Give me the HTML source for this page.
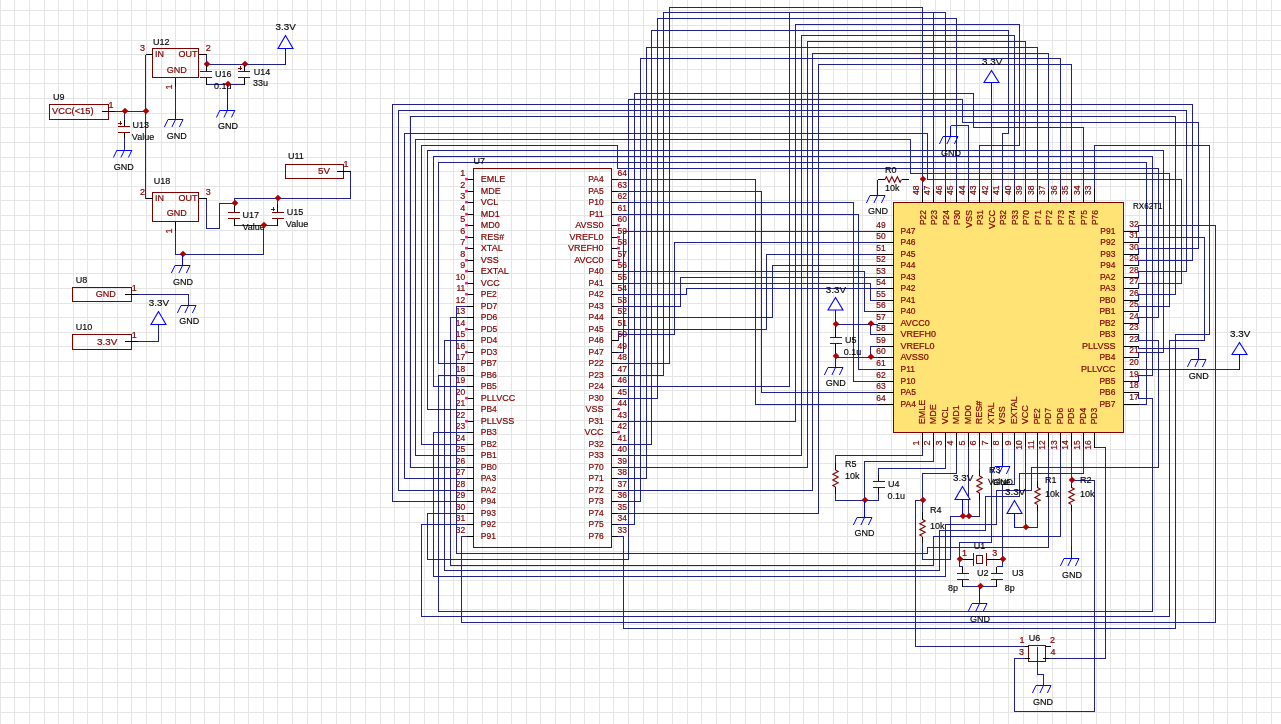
<!DOCTYPE html>
<html lang="en"><head><meta charset="utf-8"><title>RX62T1 schematic</title>
<style>html,body{margin:0;padding:0;background:#fff;overflow:hidden}svg{display:block;will-change:transform;transform:translateZ(0)}text{font-family:"Liberation Sans",Arial,sans-serif;font-size:9px;white-space:pre;stroke-width:.14px;fill:#000;stroke:#000}text.r{fill:#800000;stroke:#800000;stroke-width:.2px}</style></head><body>
<svg width="1281" height="724" viewBox="0 0 1281 724">
<g shape-rendering="crispEdges" stroke="#e5e5e5" stroke-width="1">
<line x1="0.5" y1="0" x2="0.5" y2="724"/>
<line x1="14.5" y1="0" x2="14.5" y2="724"/>
<line x1="29.5" y1="0" x2="29.5" y2="724"/>
<line x1="44.5" y1="0" x2="44.5" y2="724"/>
<line x1="58.5" y1="0" x2="58.5" y2="724"/>
<line x1="73.5" y1="0" x2="73.5" y2="724"/>
<line x1="87.5" y1="0" x2="87.5" y2="724"/>
<line x1="102.5" y1="0" x2="102.5" y2="724"/>
<line x1="117.5" y1="0" x2="117.5" y2="724"/>
<line x1="131.5" y1="0" x2="131.5" y2="724"/>
<line x1="146.5" y1="0" x2="146.5" y2="724"/>
<line x1="161.5" y1="0" x2="161.5" y2="724"/>
<line x1="175.5" y1="0" x2="175.5" y2="724"/>
<line x1="190.5" y1="0" x2="190.5" y2="724"/>
<line x1="204.5" y1="0" x2="204.5" y2="724"/>
<line x1="219.5" y1="0" x2="219.5" y2="724"/>
<line x1="234.5" y1="0" x2="234.5" y2="724"/>
<line x1="248.5" y1="0" x2="248.5" y2="724"/>
<line x1="263.5" y1="0" x2="263.5" y2="724"/>
<line x1="277.5" y1="0" x2="277.5" y2="724"/>
<line x1="292.5" y1="0" x2="292.5" y2="724"/>
<line x1="307.5" y1="0" x2="307.5" y2="724"/>
<line x1="321.5" y1="0" x2="321.5" y2="724"/>
<line x1="336.5" y1="0" x2="336.5" y2="724"/>
<line x1="350.5" y1="0" x2="350.5" y2="724"/>
<line x1="365.5" y1="0" x2="365.5" y2="724"/>
<line x1="380.5" y1="0" x2="380.5" y2="724"/>
<line x1="394.5" y1="0" x2="394.5" y2="724"/>
<line x1="409.5" y1="0" x2="409.5" y2="724"/>
<line x1="424.5" y1="0" x2="424.5" y2="724"/>
<line x1="438.5" y1="0" x2="438.5" y2="724"/>
<line x1="453.5" y1="0" x2="453.5" y2="724"/>
<line x1="467.5" y1="0" x2="467.5" y2="724"/>
<line x1="482.5" y1="0" x2="482.5" y2="724"/>
<line x1="497.5" y1="0" x2="497.5" y2="724"/>
<line x1="511.5" y1="0" x2="511.5" y2="724"/>
<line x1="526.5" y1="0" x2="526.5" y2="724"/>
<line x1="540.5" y1="0" x2="540.5" y2="724"/>
<line x1="555.5" y1="0" x2="555.5" y2="724"/>
<line x1="570.5" y1="0" x2="570.5" y2="724"/>
<line x1="584.5" y1="0" x2="584.5" y2="724"/>
<line x1="599.5" y1="0" x2="599.5" y2="724"/>
<line x1="613.5" y1="0" x2="613.5" y2="724"/>
<line x1="628.5" y1="0" x2="628.5" y2="724"/>
<line x1="643.5" y1="0" x2="643.5" y2="724"/>
<line x1="657.5" y1="0" x2="657.5" y2="724"/>
<line x1="672.5" y1="0" x2="672.5" y2="724"/>
<line x1="687.5" y1="0" x2="687.5" y2="724"/>
<line x1="701.5" y1="0" x2="701.5" y2="724"/>
<line x1="716.5" y1="0" x2="716.5" y2="724"/>
<line x1="730.5" y1="0" x2="730.5" y2="724"/>
<line x1="745.5" y1="0" x2="745.5" y2="724"/>
<line x1="760.5" y1="0" x2="760.5" y2="724"/>
<line x1="774.5" y1="0" x2="774.5" y2="724"/>
<line x1="789.5" y1="0" x2="789.5" y2="724"/>
<line x1="803.5" y1="0" x2="803.5" y2="724"/>
<line x1="818.5" y1="0" x2="818.5" y2="724"/>
<line x1="833.5" y1="0" x2="833.5" y2="724"/>
<line x1="847.5" y1="0" x2="847.5" y2="724"/>
<line x1="862.5" y1="0" x2="862.5" y2="724"/>
<line x1="876.5" y1="0" x2="876.5" y2="724"/>
<line x1="891.5" y1="0" x2="891.5" y2="724"/>
<line x1="906.5" y1="0" x2="906.5" y2="724"/>
<line x1="920.5" y1="0" x2="920.5" y2="724"/>
<line x1="935.5" y1="0" x2="935.5" y2="724"/>
<line x1="950.5" y1="0" x2="950.5" y2="724"/>
<line x1="964.5" y1="0" x2="964.5" y2="724"/>
<line x1="979.5" y1="0" x2="979.5" y2="724"/>
<line x1="993.5" y1="0" x2="993.5" y2="724"/>
<line x1="1008.5" y1="0" x2="1008.5" y2="724"/>
<line x1="1023.5" y1="0" x2="1023.5" y2="724"/>
<line x1="1037.5" y1="0" x2="1037.5" y2="724"/>
<line x1="1052.5" y1="0" x2="1052.5" y2="724"/>
<line x1="1066.5" y1="0" x2="1066.5" y2="724"/>
<line x1="1081.5" y1="0" x2="1081.5" y2="724"/>
<line x1="1096.5" y1="0" x2="1096.5" y2="724"/>
<line x1="1110.5" y1="0" x2="1110.5" y2="724"/>
<line x1="1125.5" y1="0" x2="1125.5" y2="724"/>
<line x1="1139.5" y1="0" x2="1139.5" y2="724"/>
<line x1="1154.5" y1="0" x2="1154.5" y2="724"/>
<line x1="1169.5" y1="0" x2="1169.5" y2="724"/>
<line x1="1183.5" y1="0" x2="1183.5" y2="724"/>
<line x1="1198.5" y1="0" x2="1198.5" y2="724"/>
<line x1="1213.5" y1="0" x2="1213.5" y2="724"/>
<line x1="1227.5" y1="0" x2="1227.5" y2="724"/>
<line x1="1242.5" y1="0" x2="1242.5" y2="724"/>
<line x1="1256.5" y1="0" x2="1256.5" y2="724"/>
<line x1="1271.5" y1="0" x2="1271.5" y2="724"/>
<line x1="0" y1="10.5" x2="1281" y2="10.5"/>
<line x1="0" y1="25.5" x2="1281" y2="25.5"/>
<line x1="0" y1="40.5" x2="1281" y2="40.5"/>
<line x1="0" y1="54.5" x2="1281" y2="54.5"/>
<line x1="0" y1="69.5" x2="1281" y2="69.5"/>
<line x1="0" y1="83.5" x2="1281" y2="83.5"/>
<line x1="0" y1="98.5" x2="1281" y2="98.5"/>
<line x1="0" y1="113.5" x2="1281" y2="113.5"/>
<line x1="0" y1="127.5" x2="1281" y2="127.5"/>
<line x1="0" y1="142.5" x2="1281" y2="142.5"/>
<line x1="0" y1="157.5" x2="1281" y2="157.5"/>
<line x1="0" y1="171.5" x2="1281" y2="171.5"/>
<line x1="0" y1="186.5" x2="1281" y2="186.5"/>
<line x1="0" y1="200.5" x2="1281" y2="200.5"/>
<line x1="0" y1="215.5" x2="1281" y2="215.5"/>
<line x1="0" y1="230.5" x2="1281" y2="230.5"/>
<line x1="0" y1="244.5" x2="1281" y2="244.5"/>
<line x1="0" y1="259.5" x2="1281" y2="259.5"/>
<line x1="0" y1="273.5" x2="1281" y2="273.5"/>
<line x1="0" y1="288.5" x2="1281" y2="288.5"/>
<line x1="0" y1="303.5" x2="1281" y2="303.5"/>
<line x1="0" y1="317.5" x2="1281" y2="317.5"/>
<line x1="0" y1="332.5" x2="1281" y2="332.5"/>
<line x1="0" y1="346.5" x2="1281" y2="346.5"/>
<line x1="0" y1="361.5" x2="1281" y2="361.5"/>
<line x1="0" y1="376.5" x2="1281" y2="376.5"/>
<line x1="0" y1="390.5" x2="1281" y2="390.5"/>
<line x1="0" y1="405.5" x2="1281" y2="405.5"/>
<line x1="0" y1="420.5" x2="1281" y2="420.5"/>
<line x1="0" y1="434.5" x2="1281" y2="434.5"/>
<line x1="0" y1="449.5" x2="1281" y2="449.5"/>
<line x1="0" y1="463.5" x2="1281" y2="463.5"/>
<line x1="0" y1="478.5" x2="1281" y2="478.5"/>
<line x1="0" y1="493.5" x2="1281" y2="493.5"/>
<line x1="0" y1="507.5" x2="1281" y2="507.5"/>
<line x1="0" y1="522.5" x2="1281" y2="522.5"/>
<line x1="0" y1="536.5" x2="1281" y2="536.5"/>
<line x1="0" y1="551.5" x2="1281" y2="551.5"/>
<line x1="0" y1="566.5" x2="1281" y2="566.5"/>
<line x1="0" y1="580.5" x2="1281" y2="580.5"/>
<line x1="0" y1="595.5" x2="1281" y2="595.5"/>
<line x1="0" y1="609.5" x2="1281" y2="609.5"/>
<line x1="0" y1="624.5" x2="1281" y2="624.5"/>
<line x1="0" y1="639.5" x2="1281" y2="639.5"/>
<line x1="0" y1="653.5" x2="1281" y2="653.5"/>
<line x1="0" y1="668.5" x2="1281" y2="668.5"/>
<line x1="0" y1="682.5" x2="1281" y2="682.5"/>
<line x1="0" y1="697.5" x2="1281" y2="697.5"/>
<line x1="0" y1="712.5" x2="1281" y2="712.5"/>
</g>
<g id="wires">
<polyline points="467,306.5 456.5,306.5 456.5,553.5 927.5,553.5 927.5,547.5 1048.5,547.5 1048.5,447" stroke="#21218b" stroke-width="1" fill="none" shape-rendering="crispEdges"/>
<polyline points="467,317.5 450.5,317.5 450.5,565.5 933.5,565.5 933.5,536.5 1060.5,536.5 1060.5,447" stroke="#21218b" stroke-width="1" fill="none" shape-rendering="crispEdges"/>
<polyline points="467,340.5 444.5,340.5 444.5,570.5 939.5,570.5 939.5,530.5 985.5,530.5 985.5,496.5 1019.5,496.5 1019.5,473.5 1083.5,473.5 1083.5,447" stroke="#21218b" stroke-width="1" fill="none" shape-rendering="crispEdges"/>
<polyline points="467,363.5 438.5,363.5 438.5,162.5 1146.5,162.5 1146.5,404.5 1138.5,404.5" stroke="#21218b" stroke-width="1" fill="none" shape-rendering="crispEdges"/>
<polyline points="467,375.5 438.5,375.5 438.5,611.5 1152.5,611.5 1152.5,398.5 1138.5,398.5 1138.5,392.5" stroke="#21218b" stroke-width="1" fill="none" shape-rendering="crispEdges"/>
<polyline points="467,386.5 433.5,386.5 433.5,156.5 1152.5,156.5 1152.5,375.5 1138.5,375.5 1138.5,381.5" stroke="#21218b" stroke-width="1" fill="none" shape-rendering="crispEdges"/>
<polyline points="467,409.5 427.5,409.5 427.5,150.5 1163.5,150.5 1163.5,352.5 1138.5,352.5 1138.5,357.5" stroke="#21218b" stroke-width="1" fill="none" shape-rendering="crispEdges"/>
<polyline points="467,432.5 433.5,432.5 433.5,576.5 945.5,576.5 945.5,524.5 996.5,524.5 996.5,490.5 1031.5,490.5 1031.5,467.5 1158.5,467.5 1158.5,340.5 1138.5,340.5 1138.5,334.5" stroke="#21218b" stroke-width="1" fill="none" shape-rendering="crispEdges"/>
<polyline points="467,444.5 421.5,444.5 421.5,145.5 617.5,145.5 617.5,168.5 1158.5,168.5 1158.5,317.5 1138.5,317.5 1138.5,323.5" stroke="#21218b" stroke-width="1" fill="none" shape-rendering="crispEdges"/>
<polyline points="467,455.5 415.5,455.5 415.5,139.5 910.5,139.5 910.5,173.5 1169.5,173.5 1169.5,306.5 1138.5,306.5 1138.5,311.5" stroke="#21218b" stroke-width="1" fill="none" shape-rendering="crispEdges"/>
<polyline points="467,467.5 410.5,467.5 410.5,116.5 1175.5,116.5 1175.5,294.5 1138.5,294.5 1138.5,300.5" stroke="#21218b" stroke-width="1" fill="none" shape-rendering="crispEdges"/>
<polyline points="467,478.5 404.5,478.5 404.5,133.5 927.5,133.5 927.5,179.5 1181.5,179.5 1181.5,283.5 1138.5,283.5 1138.5,288.5" stroke="#21218b" stroke-width="1" fill="none" shape-rendering="crispEdges"/>
<polyline points="467,490.5 398.5,490.5 398.5,110.5 1186.5,110.5 1186.5,271.5 1138.5,271.5 1138.5,277.5" stroke="#21218b" stroke-width="1" fill="none" shape-rendering="crispEdges"/>
<polyline points="467,501.5 392.5,501.5 392.5,104.5 1192.5,104.5 1192.5,260.5 1138.5,260.5 1138.5,265.5" stroke="#21218b" stroke-width="1" fill="none" shape-rendering="crispEdges"/>
<polyline points="467,513.5 427.5,513.5 427.5,559.5 628.5,559.5 628.5,99.5 962.5,99.5 962.5,122.5 1198.5,122.5 1198.5,248.5 1138.5,248.5 1138.5,254.5" stroke="#21218b" stroke-width="1" fill="none" shape-rendering="crispEdges"/>
<polyline points="467,524.5 421.5,524.5 421.5,616.5 1169.5,616.5 1169.5,340.5 1204.5,340.5 1204.5,237.5 1138.5,237.5 1138.5,242.5" stroke="#21218b" stroke-width="1" fill="none" shape-rendering="crispEdges"/>
<polyline points="467,536.5 461.5,536.5 461.5,622.5 1215.5,622.5 1215.5,225.5 1138.5,225.5 1138.5,231.5" stroke="#21218b" stroke-width="1" fill="none" shape-rendering="crispEdges"/>
<polyline points="618,179.5 755.5,179.5 755.5,404.5 877.5,404.5" stroke="#21218b" stroke-width="1" fill="none" shape-rendering="crispEdges"/>
<polyline points="618,191.5 761.5,191.5 761.5,392.5 877.5,392.5" stroke="#21218b" stroke-width="1" fill="none" shape-rendering="crispEdges"/>
<polyline points="618,202.5 853.5,202.5 853.5,381.5 877.5,381.5" stroke="#21218b" stroke-width="1" fill="none" shape-rendering="crispEdges"/>
<polyline points="618,214.5 858.5,214.5 858.5,369.5 877.5,369.5" stroke="#21218b" stroke-width="1" fill="none" shape-rendering="crispEdges"/>
<polyline points="618,271.5 864.5,271.5 864.5,311.5 877.5,311.5" stroke="#21218b" stroke-width="1" fill="none" shape-rendering="crispEdges"/>
<polyline points="618,283.5 870.5,283.5 870.5,300.5 877.5,300.5" stroke="#21218b" stroke-width="1" fill="none" shape-rendering="crispEdges"/>
<polyline points="618,294.5 686.5,294.5 686.5,288.5 877.5,288.5" stroke="#21218b" stroke-width="1" fill="none" shape-rendering="crispEdges"/>
<polyline points="618,306.5 680.5,306.5 680.5,277.5 877.5,277.5" stroke="#21218b" stroke-width="1" fill="none" shape-rendering="crispEdges"/>
<polyline points="618,317.5 772.5,317.5 772.5,265.5 877.5,265.5" stroke="#21218b" stroke-width="1" fill="none" shape-rendering="crispEdges"/>
<polyline points="618,329.5 766.5,329.5 766.5,254.5 877.5,254.5" stroke="#21218b" stroke-width="1" fill="none" shape-rendering="crispEdges"/>
<polyline points="618,340.5 618.5,340.5 618.5,334.5 674.5,334.5 674.5,242.5 877.5,242.5" stroke="#21218b" stroke-width="1" fill="none" shape-rendering="crispEdges"/>
<polyline points="618,352.5 623.5,352.5 623.5,231.5 877.5,231.5" stroke="#21218b" stroke-width="1" fill="none" shape-rendering="crispEdges"/>
<polyline points="618,363.5 669.5,363.5 669.5,7.5 922.5,7.5 922.5,189" stroke="#21218b" stroke-width="1" fill="none" shape-rendering="crispEdges"/>
<polyline points="618,375.5 663.5,375.5 663.5,12.5 933.5,12.5 933.5,189" stroke="#21218b" stroke-width="1" fill="none" shape-rendering="crispEdges"/>
<polyline points="618,386.5 789.5,386.5 789.5,12.5 945.5,12.5 945.5,189" stroke="#21218b" stroke-width="1" fill="none" shape-rendering="crispEdges"/>
<polyline points="618,398.5 657.5,398.5 657.5,18.5 956.5,18.5 956.5,189" stroke="#21218b" stroke-width="1" fill="none" shape-rendering="crispEdges"/>
<polyline points="618,421.5 795.5,421.5 795.5,24.5 1019.5,24.5 1019.5,145.5 979.5,145.5 979.5,189" stroke="#21218b" stroke-width="1" fill="none" shape-rendering="crispEdges"/>
<polyline points="618,444.5 651.5,444.5 651.5,30.5 1008.5,30.5 1008.5,133.5 1002.5,133.5 1002.5,189" stroke="#21218b" stroke-width="1" fill="none" shape-rendering="crispEdges"/>
<polyline points="618,455.5 801.5,455.5 801.5,35.5 1014.5,35.5 1014.5,189" stroke="#21218b" stroke-width="1" fill="none" shape-rendering="crispEdges"/>
<polyline points="618,467.5 807.5,467.5 807.5,41.5 1025.5,41.5 1025.5,189" stroke="#21218b" stroke-width="1" fill="none" shape-rendering="crispEdges"/>
<polyline points="618,478.5 646.5,478.5 646.5,47.5 1037.5,47.5 1037.5,189" stroke="#21218b" stroke-width="1" fill="none" shape-rendering="crispEdges"/>
<polyline points="618,490.5 812.5,490.5 812.5,53.5 1048.5,53.5 1048.5,189" stroke="#21218b" stroke-width="1" fill="none" shape-rendering="crispEdges"/>
<polyline points="618,501.5 640.5,501.5 640.5,58.5 1060.5,58.5 1060.5,189" stroke="#21218b" stroke-width="1" fill="none" shape-rendering="crispEdges"/>
<polyline points="618,513.5 818.5,513.5 818.5,64.5 1071.5,64.5 1071.5,189" stroke="#21218b" stroke-width="1" fill="none" shape-rendering="crispEdges"/>
<polyline points="618,524.5 634.5,524.5 634.5,93.5 973.5,93.5 973.5,127.5 1083.5,127.5 1083.5,189" stroke="#21218b" stroke-width="1" fill="none" shape-rendering="crispEdges"/>
<polyline points="618,536.5 623.5,536.5 623.5,628.5 1175.5,628.5 1175.5,334.5 1209.5,334.5 1209.5,145.5 1094.5,145.5 1094.5,189" stroke="#21218b" stroke-width="1" fill="none" shape-rendering="crispEdges"/>
<polyline points="968.5,189 968.5,125.5 950.5,125.5" stroke="#21218b" stroke-width="1" fill="none" shape-rendering="crispEdges"/>
<polyline points="991.5,189 991.5,97" stroke="#21218b" stroke-width="1" fill="none" shape-rendering="crispEdges"/>
<polyline points="1138.5,346.5 1138.5,348.5 1198.5,348.5" stroke="#21218b" stroke-width="1" fill="none" shape-rendering="crispEdges"/>
<polyline points="1138.5,369.5 1239.5,369.5" stroke="#21218b" stroke-width="1" fill="none" shape-rendering="crispEdges"/>
<polyline points="835.5,324.5 877.5,324.5" stroke="#21218b" stroke-width="1" fill="none" shape-rendering="crispEdges"/>
<polyline points="870.5,324.5 870.5,334.5 877.5,334.5" stroke="#21218b" stroke-width="1" fill="none" shape-rendering="crispEdges"/>
<polyline points="870.5,357.5 870.5,346.5 877.5,346.5" stroke="#21218b" stroke-width="1" fill="none" shape-rendering="crispEdges"/>
<polyline points="835.5,357.5 877.5,357.5" stroke="#21218b" stroke-width="1" fill="none" shape-rendering="crispEdges"/>
<polyline points="922.5,447 922.5,455.5 835.5,455.5 835.5,463" stroke="#21218b" stroke-width="1" fill="none" shape-rendering="crispEdges"/>
<polyline points="835.5,494 835.5,500.5 878.5,500.5 878.5,494" stroke="#21218b" stroke-width="1" fill="none" shape-rendering="crispEdges"/>
<polyline points="878.5,475 878.5,468.5 945.5,468.5 945.5,447" stroke="#21218b" stroke-width="1" fill="none" shape-rendering="crispEdges"/>
<polyline points="933.5,447 933.5,461.5 864.5,461.5 864.5,500.5" stroke="#21218b" stroke-width="1" fill="none" shape-rendering="crispEdges"/>
<polyline points="956.5,447 956.5,473.5 922.5,473.5 922.5,512" stroke="#21218b" stroke-width="1" fill="none" shape-rendering="crispEdges"/>
<polyline points="922.5,500.5 915.5,500.5 915.5,646.5 1025,646.5" stroke="#21218b" stroke-width="1" fill="none" shape-rendering="crispEdges"/>
<polyline points="922.5,543 922.5,559.5 950.5,559.5 950.5,516.5 979.5,516.5 979.5,499.5" stroke="#21218b" stroke-width="1" fill="none" shape-rendering="crispEdges"/>
<polyline points="968.5,447 968.5,516.5" stroke="#21218b" stroke-width="1" fill="none" shape-rendering="crispEdges"/>
<polyline points="979.5,447 979.5,469.5" stroke="#21218b" stroke-width="1" fill="none" shape-rendering="crispEdges"/>
<polyline points="991.5,447 991.5,542.5 959.5,542.5 959.5,566.5 962.5,566.5" stroke="#21218b" stroke-width="1" fill="none" shape-rendering="crispEdges"/>
<polyline points="1014.5,447 1014.5,484.5 1002.5,484.5 1002.5,566.5 996.5,566.5" stroke="#21218b" stroke-width="1" fill="none" shape-rendering="crispEdges"/>
<polyline points="1025.5,447 1025.5,527.5" stroke="#21218b" stroke-width="1" fill="none" shape-rendering="crispEdges"/>
<polyline points="1014.5,527.5 1037.5,527.5 1037.5,510.5" stroke="#21218b" stroke-width="1" fill="none" shape-rendering="crispEdges"/>
<polyline points="1037.5,447 1037.5,480.5" stroke="#21218b" stroke-width="1" fill="none" shape-rendering="crispEdges"/>
<polyline points="1071.5,447 1071.5,485" stroke="#21218b" stroke-width="1" fill="none" shape-rendering="crispEdges"/>
<polyline points="1071.5,480.5 1094.5,480.5 1094.5,711.5 1014.5,711.5 1014.5,658.5 1025,658.5" stroke="#21218b" stroke-width="1" fill="none" shape-rendering="crispEdges"/>
<polyline points="1094.5,447.5 1105.5,447.5 1105.5,658.5 1049,658.5" stroke="#21218b" stroke-width="1" fill="none" shape-rendering="crispEdges"/>
<polyline points="962.5,586.5 996.5,586.5" stroke="#21218b" stroke-width="1" fill="none" shape-rendering="crispEdges"/>
<polyline points="1071.5,510.5 1071.5,546" stroke="#21218b" stroke-width="1" fill="none" shape-rendering="crispEdges"/>
<polyline points="1037.5,646.5 1037.5,674.5 1043.5,674.5 1043.5,685.5" stroke="#21218b" stroke-width="1" fill="none" shape-rendering="crispEdges"/>
<polyline points="145.5,54.5 145.5,198.5" stroke="#21218b" stroke-width="1" fill="none" shape-rendering="crispEdges"/>
<polyline points="206.5,54.5 206.5,64.5" stroke="#21218b" stroke-width="1" fill="none" shape-rendering="crispEdges"/>
<polyline points="206.5,64.5 285.5,64.5" stroke="#21218b" stroke-width="1" fill="none" shape-rendering="crispEdges"/>
<polyline points="206.5,84.5 244.5,84.5" stroke="#21218b" stroke-width="1" fill="none" shape-rendering="crispEdges"/>
<polyline points="115,111.5 145.5,111.5" stroke="#21218b" stroke-width="1" fill="none" shape-rendering="crispEdges"/>
<polyline points="124.5,111.5 124.5,120" stroke="#21218b" stroke-width="1" fill="none" shape-rendering="crispEdges"/>
<polyline points="124.5,138 124.5,150" stroke="#21218b" stroke-width="1" fill="none" shape-rendering="crispEdges"/>
<polyline points="175.5,86 175.5,110" stroke="#21218b" stroke-width="1" fill="none" shape-rendering="crispEdges"/>
<polyline points="206.5,198.5 206.5,228.5 219.5,228.5 219.5,203.5 234.5,203.5 234.5,198.5 350.5,198.5 350.5,171.5" stroke="#21218b" stroke-width="1" fill="none" shape-rendering="crispEdges"/>
<polyline points="234.5,203.5 234.5,206" stroke="#21218b" stroke-width="1" fill="none" shape-rendering="crispEdges"/>
<polyline points="234.5,225.5 277.5,225.5" stroke="#21218b" stroke-width="1" fill="none" shape-rendering="crispEdges"/>
<polyline points="277.5,198.5 277.5,204" stroke="#21218b" stroke-width="1" fill="none" shape-rendering="crispEdges"/>
<polyline points="263.5,225.5 263.5,254.5 175.5,254.5 175.5,230" stroke="#21218b" stroke-width="1" fill="none" shape-rendering="crispEdges"/>
<polyline points="137.5,294.5 188.5,294.5 188.5,305.5" stroke="#21218b" stroke-width="1" fill="none" shape-rendering="crispEdges"/>
<polyline points="137.5,341.5 158.5,341.5 158.5,324.5" stroke="#21218b" stroke-width="1" fill="none" shape-rendering="crispEdges"/>
</g>
<rect x="893.5" y="202.5" width="230" height="230" fill="#ffe375" stroke="#7a0000" stroke-width="1" shape-rendering="crispEdges"/>
<g id="chip-pins">
<polyline points="877.5,231.5 893.5,231.5" stroke="#000" stroke-width="1" fill="none" shape-rendering="crispEdges"/>
<text transform="translate(900.5,234.2) scale(0.94,1)" class="r">P47</text>
<text transform="translate(885.7,227.8) scale(0.94,1)" text-anchor="end" class="r">49</text>
<polyline points="1123.5,231.5 1138.5,231.5" stroke="#000" stroke-width="1" fill="none" shape-rendering="crispEdges"/>
<text transform="translate(1115.4,234.2) scale(0.94,1)" text-anchor="end" class="r">P91</text>
<text transform="translate(1129.3,227.2) scale(0.94,1)" class="r">32</text>
<polyline points="922.5,189 922.5,202.5" stroke="#000" stroke-width="1" fill="none" shape-rendering="crispEdges"/>
<text transform="translate(925.5,210) rotate(-90) scale(0.94,1)" text-anchor="end" class="r">P22</text>
<text transform="translate(919,195) rotate(-90) scale(0.94,1)" class="r">48</text>
<polyline points="922.5,432.5 922.5,447" stroke="#000" stroke-width="1" fill="none" shape-rendering="crispEdges"/>
<text transform="translate(924.7,424.3) rotate(-90)" class="r">EMLE</text>
<text transform="translate(918.6,440.4) rotate(-90)" text-anchor="end" class="r">1</text>
<polyline points="877.5,242.5 893.5,242.5" stroke="#000" stroke-width="1" fill="none" shape-rendering="crispEdges"/>
<text transform="translate(900.5,245.2) scale(0.94,1)" class="r">P46</text>
<text transform="translate(885.7,238.8) scale(0.94,1)" text-anchor="end" class="r">50</text>
<polyline points="1123.5,242.5 1138.5,242.5" stroke="#000" stroke-width="1" fill="none" shape-rendering="crispEdges"/>
<text transform="translate(1115.4,245.2) scale(0.94,1)" text-anchor="end" class="r">P92</text>
<text transform="translate(1129.3,238.2) scale(0.94,1)" class="r">31</text>
<polyline points="933.5,189 933.5,202.5" stroke="#000" stroke-width="1" fill="none" shape-rendering="crispEdges"/>
<text transform="translate(936.5,210) rotate(-90) scale(0.94,1)" text-anchor="end" class="r">P23</text>
<text transform="translate(930,195) rotate(-90) scale(0.94,1)" class="r">47</text>
<polyline points="933.5,432.5 933.5,447" stroke="#000" stroke-width="1" fill="none" shape-rendering="crispEdges"/>
<text transform="translate(935.7,424.3) rotate(-90)" class="r">MDE</text>
<text transform="translate(929.6,440.4) rotate(-90)" text-anchor="end" class="r">2</text>
<polyline points="877.5,254.5 893.5,254.5" stroke="#000" stroke-width="1" fill="none" shape-rendering="crispEdges"/>
<text transform="translate(900.5,257.2) scale(0.94,1)" class="r">P45</text>
<text transform="translate(885.7,250.8) scale(0.94,1)" text-anchor="end" class="r">51</text>
<polyline points="1123.5,254.5 1138.5,254.5" stroke="#000" stroke-width="1" fill="none" shape-rendering="crispEdges"/>
<text transform="translate(1115.4,257.2) scale(0.94,1)" text-anchor="end" class="r">P93</text>
<text transform="translate(1129.3,250.2) scale(0.94,1)" class="r">30</text>
<polyline points="945.5,189 945.5,202.5" stroke="#000" stroke-width="1" fill="none" shape-rendering="crispEdges"/>
<text transform="translate(948.5,210) rotate(-90) scale(0.94,1)" text-anchor="end" class="r">P24</text>
<text transform="translate(942,195) rotate(-90) scale(0.94,1)" class="r">46</text>
<polyline points="945.5,432.5 945.5,447" stroke="#000" stroke-width="1" fill="none" shape-rendering="crispEdges"/>
<text transform="translate(947.7,424.3) rotate(-90)" class="r">VCL</text>
<text transform="translate(941.6,440.4) rotate(-90)" text-anchor="end" class="r">3</text>
<polyline points="877.5,265.5 893.5,265.5" stroke="#000" stroke-width="1" fill="none" shape-rendering="crispEdges"/>
<text transform="translate(900.5,268.2) scale(0.94,1)" class="r">P44</text>
<text transform="translate(885.7,261.8) scale(0.94,1)" text-anchor="end" class="r">52</text>
<polyline points="1123.5,265.5 1138.5,265.5" stroke="#000" stroke-width="1" fill="none" shape-rendering="crispEdges"/>
<text transform="translate(1115.4,268.2) scale(0.94,1)" text-anchor="end" class="r">P94</text>
<text transform="translate(1129.3,261.2) scale(0.94,1)" class="r">29</text>
<polyline points="956.5,189 956.5,202.5" stroke="#000" stroke-width="1" fill="none" shape-rendering="crispEdges"/>
<text transform="translate(959.5,210) rotate(-90) scale(0.94,1)" text-anchor="end" class="r">P30</text>
<text transform="translate(953,195) rotate(-90) scale(0.94,1)" class="r">45</text>
<polyline points="956.5,432.5 956.5,447" stroke="#000" stroke-width="1" fill="none" shape-rendering="crispEdges"/>
<text transform="translate(958.7,424.3) rotate(-90)" class="r">MD1</text>
<text transform="translate(952.6,440.4) rotate(-90)" text-anchor="end" class="r">4</text>
<polyline points="877.5,277.5 893.5,277.5" stroke="#000" stroke-width="1" fill="none" shape-rendering="crispEdges"/>
<text transform="translate(900.5,280.2) scale(0.94,1)" class="r">P43</text>
<text transform="translate(885.7,273.8) scale(0.94,1)" text-anchor="end" class="r">53</text>
<polyline points="1123.5,277.5 1138.5,277.5" stroke="#000" stroke-width="1" fill="none" shape-rendering="crispEdges"/>
<text transform="translate(1115.4,280.2) scale(0.94,1)" text-anchor="end" class="r">PA2</text>
<text transform="translate(1129.3,273.2) scale(0.94,1)" class="r">28</text>
<polyline points="968.5,189 968.5,202.5" stroke="#000" stroke-width="1" fill="none" shape-rendering="crispEdges"/>
<text transform="translate(971.5,210) rotate(-90)" text-anchor="end" class="r">VSS</text>
<text transform="translate(965,195) rotate(-90) scale(0.94,1)" class="r">44</text>
<polyline points="968.5,432.5 968.5,447" stroke="#000" stroke-width="1" fill="none" shape-rendering="crispEdges"/>
<text transform="translate(970.7,424.3) rotate(-90)" class="r">MD0</text>
<text transform="translate(964.6,440.4) rotate(-90)" text-anchor="end" class="r">5</text>
<polyline points="877.5,288.5 893.5,288.5" stroke="#000" stroke-width="1" fill="none" shape-rendering="crispEdges"/>
<text transform="translate(900.5,291.2) scale(0.94,1)" class="r">P42</text>
<text transform="translate(885.7,284.8) scale(0.94,1)" text-anchor="end" class="r">54</text>
<polyline points="1123.5,288.5 1138.5,288.5" stroke="#000" stroke-width="1" fill="none" shape-rendering="crispEdges"/>
<text transform="translate(1115.4,291.2) scale(0.94,1)" text-anchor="end" class="r">PA3</text>
<text transform="translate(1129.3,284.2) scale(0.94,1)" class="r">27</text>
<polyline points="979.5,189 979.5,202.5" stroke="#000" stroke-width="1" fill="none" shape-rendering="crispEdges"/>
<text transform="translate(982.5,210) rotate(-90) scale(0.94,1)" text-anchor="end" class="r">P31</text>
<text transform="translate(976,195) rotate(-90) scale(0.94,1)" class="r">43</text>
<polyline points="979.5,432.5 979.5,447" stroke="#000" stroke-width="1" fill="none" shape-rendering="crispEdges"/>
<text transform="translate(981.7,424.3) rotate(-90)" class="r">RES#</text>
<text transform="translate(975.6,440.4) rotate(-90)" text-anchor="end" class="r">6</text>
<polyline points="877.5,300.5 893.5,300.5" stroke="#000" stroke-width="1" fill="none" shape-rendering="crispEdges"/>
<text transform="translate(900.5,303.2) scale(0.94,1)" class="r">P41</text>
<text transform="translate(885.7,296.8) scale(0.94,1)" text-anchor="end" class="r">55</text>
<polyline points="1123.5,300.5 1138.5,300.5" stroke="#000" stroke-width="1" fill="none" shape-rendering="crispEdges"/>
<text transform="translate(1115.4,303.2) scale(0.94,1)" text-anchor="end" class="r">PB0</text>
<text transform="translate(1129.3,296.2) scale(0.94,1)" class="r">26</text>
<polyline points="991.5,189 991.5,202.5" stroke="#000" stroke-width="1" fill="none" shape-rendering="crispEdges"/>
<text transform="translate(994.5,210) rotate(-90)" text-anchor="end" class="r">VCC</text>
<text transform="translate(988,195) rotate(-90) scale(0.94,1)" class="r">42</text>
<polyline points="991.5,432.5 991.5,447" stroke="#000" stroke-width="1" fill="none" shape-rendering="crispEdges"/>
<text transform="translate(993.7,424.3) rotate(-90)" class="r">XTAL</text>
<text transform="translate(987.6,440.4) rotate(-90)" text-anchor="end" class="r">7</text>
<polyline points="877.5,311.5 893.5,311.5" stroke="#000" stroke-width="1" fill="none" shape-rendering="crispEdges"/>
<text transform="translate(900.5,314.2) scale(0.94,1)" class="r">P40</text>
<text transform="translate(885.7,307.8) scale(0.94,1)" text-anchor="end" class="r">56</text>
<polyline points="1123.5,311.5 1138.5,311.5" stroke="#000" stroke-width="1" fill="none" shape-rendering="crispEdges"/>
<text transform="translate(1115.4,314.2) scale(0.94,1)" text-anchor="end" class="r">PB1</text>
<text transform="translate(1129.3,307.2) scale(0.94,1)" class="r">25</text>
<polyline points="1002.5,189 1002.5,202.5" stroke="#000" stroke-width="1" fill="none" shape-rendering="crispEdges"/>
<text transform="translate(1005.5,210) rotate(-90) scale(0.94,1)" text-anchor="end" class="r">P32</text>
<text transform="translate(999,195) rotate(-90) scale(0.94,1)" class="r">41</text>
<polyline points="1002.5,432.5 1002.5,447" stroke="#000" stroke-width="1" fill="none" shape-rendering="crispEdges"/>
<text transform="translate(1004.7,424.3) rotate(-90)" class="r">VSS</text>
<text transform="translate(998.6,440.4) rotate(-90)" text-anchor="end" class="r">8</text>
<polyline points="877.5,323.5 893.5,323.5" stroke="#000" stroke-width="1" fill="none" shape-rendering="crispEdges"/>
<text x="900.5" y="326.2" class="r">AVCC0</text>
<text transform="translate(885.7,319.8) scale(0.94,1)" text-anchor="end" class="r">57</text>
<polyline points="1123.5,323.5 1138.5,323.5" stroke="#000" stroke-width="1" fill="none" shape-rendering="crispEdges"/>
<text transform="translate(1115.4,326.2) scale(0.94,1)" text-anchor="end" class="r">PB2</text>
<text transform="translate(1129.3,319.2) scale(0.94,1)" class="r">24</text>
<polyline points="1014.5,189 1014.5,202.5" stroke="#000" stroke-width="1" fill="none" shape-rendering="crispEdges"/>
<text transform="translate(1017.5,210) rotate(-90) scale(0.94,1)" text-anchor="end" class="r">P33</text>
<text transform="translate(1011,195) rotate(-90) scale(0.94,1)" class="r">40</text>
<polyline points="1014.5,432.5 1014.5,447" stroke="#000" stroke-width="1" fill="none" shape-rendering="crispEdges"/>
<text transform="translate(1016.7,424.3) rotate(-90)" class="r">EXTAL</text>
<text transform="translate(1010.6,440.4) rotate(-90)" text-anchor="end" class="r">9</text>
<polyline points="877.5,334.5 893.5,334.5" stroke="#000" stroke-width="1" fill="none" shape-rendering="crispEdges"/>
<text x="900.5" y="337.2" class="r">VREFH0</text>
<text transform="translate(885.7,330.8) scale(0.94,1)" text-anchor="end" class="r">58</text>
<polyline points="1123.5,334.5 1138.5,334.5" stroke="#000" stroke-width="1" fill="none" shape-rendering="crispEdges"/>
<text transform="translate(1115.4,337.2) scale(0.94,1)" text-anchor="end" class="r">PB3</text>
<text transform="translate(1129.3,330.2) scale(0.94,1)" class="r">23</text>
<polyline points="1025.5,189 1025.5,202.5" stroke="#000" stroke-width="1" fill="none" shape-rendering="crispEdges"/>
<text transform="translate(1028.5,210) rotate(-90) scale(0.94,1)" text-anchor="end" class="r">P70</text>
<text transform="translate(1022,195) rotate(-90) scale(0.94,1)" class="r">39</text>
<polyline points="1025.5,432.5 1025.5,447" stroke="#000" stroke-width="1" fill="none" shape-rendering="crispEdges"/>
<text transform="translate(1027.7,424.3) rotate(-90)" class="r">VCC</text>
<text transform="translate(1021.6,440.4) rotate(-90) scale(0.94,1)" text-anchor="end" class="r">10</text>
<polyline points="877.5,346.5 893.5,346.5" stroke="#000" stroke-width="1" fill="none" shape-rendering="crispEdges"/>
<text x="900.5" y="349.2" class="r">VREFL0</text>
<text transform="translate(885.7,342.8) scale(0.94,1)" text-anchor="end" class="r">59</text>
<polyline points="1123.5,346.5 1138.5,346.5" stroke="#000" stroke-width="1" fill="none" shape-rendering="crispEdges"/>
<text x="1115.4" y="349.2" text-anchor="end" class="r">PLLVSS</text>
<text transform="translate(1129.3,342.2) scale(0.94,1)" class="r">22</text>
<polyline points="1037.5,189 1037.5,202.5" stroke="#000" stroke-width="1" fill="none" shape-rendering="crispEdges"/>
<text transform="translate(1040.5,210) rotate(-90) scale(0.94,1)" text-anchor="end" class="r">P71</text>
<text transform="translate(1034,195) rotate(-90) scale(0.94,1)" class="r">38</text>
<polyline points="1037.5,432.5 1037.5,447" stroke="#000" stroke-width="1" fill="none" shape-rendering="crispEdges"/>
<text transform="translate(1039.7,424.3) rotate(-90) scale(0.94,1)" class="r">PE2</text>
<text transform="translate(1033.6,440.4) rotate(-90) scale(0.94,1)" text-anchor="end" class="r">11</text>
<polyline points="877.5,357.5 893.5,357.5" stroke="#000" stroke-width="1" fill="none" shape-rendering="crispEdges"/>
<text x="900.5" y="360.2" class="r">AVSS0</text>
<text transform="translate(885.7,353.8) scale(0.94,1)" text-anchor="end" class="r">60</text>
<polyline points="1123.5,357.5 1138.5,357.5" stroke="#000" stroke-width="1" fill="none" shape-rendering="crispEdges"/>
<text transform="translate(1115.4,360.2) scale(0.94,1)" text-anchor="end" class="r">PB4</text>
<text transform="translate(1129.3,353.2) scale(0.94,1)" class="r">21</text>
<polyline points="1048.5,189 1048.5,202.5" stroke="#000" stroke-width="1" fill="none" shape-rendering="crispEdges"/>
<text transform="translate(1051.5,210) rotate(-90) scale(0.94,1)" text-anchor="end" class="r">P72</text>
<text transform="translate(1045,195) rotate(-90) scale(0.94,1)" class="r">37</text>
<polyline points="1048.5,432.5 1048.5,447" stroke="#000" stroke-width="1" fill="none" shape-rendering="crispEdges"/>
<text transform="translate(1050.7,424.3) rotate(-90) scale(0.94,1)" class="r">PD7</text>
<text transform="translate(1044.6,440.4) rotate(-90) scale(0.94,1)" text-anchor="end" class="r">12</text>
<polyline points="877.5,369.5 893.5,369.5" stroke="#000" stroke-width="1" fill="none" shape-rendering="crispEdges"/>
<text transform="translate(900.5,372.2) scale(0.94,1)" class="r">P11</text>
<text transform="translate(885.7,365.8) scale(0.94,1)" text-anchor="end" class="r">61</text>
<polyline points="1123.5,369.5 1138.5,369.5" stroke="#000" stroke-width="1" fill="none" shape-rendering="crispEdges"/>
<text x="1115.4" y="372.2" text-anchor="end" class="r">PLLVCC</text>
<text transform="translate(1129.3,365.2) scale(0.94,1)" class="r">20</text>
<polyline points="1060.5,189 1060.5,202.5" stroke="#000" stroke-width="1" fill="none" shape-rendering="crispEdges"/>
<text transform="translate(1063.5,210) rotate(-90) scale(0.94,1)" text-anchor="end" class="r">P73</text>
<text transform="translate(1057,195) rotate(-90) scale(0.94,1)" class="r">36</text>
<polyline points="1060.5,432.5 1060.5,447" stroke="#000" stroke-width="1" fill="none" shape-rendering="crispEdges"/>
<text transform="translate(1062.7,424.3) rotate(-90) scale(0.94,1)" class="r">PD6</text>
<text transform="translate(1056.6,440.4) rotate(-90) scale(0.94,1)" text-anchor="end" class="r">13</text>
<polyline points="877.5,381.5 893.5,381.5" stroke="#000" stroke-width="1" fill="none" shape-rendering="crispEdges"/>
<text transform="translate(900.5,384.2) scale(0.94,1)" class="r">P10</text>
<text transform="translate(885.7,377.8) scale(0.94,1)" text-anchor="end" class="r">62</text>
<polyline points="1123.5,381.5 1138.5,381.5" stroke="#000" stroke-width="1" fill="none" shape-rendering="crispEdges"/>
<text transform="translate(1115.4,384.2) scale(0.94,1)" text-anchor="end" class="r">PB5</text>
<text transform="translate(1129.3,377.2) scale(0.94,1)" class="r">19</text>
<polyline points="1071.5,189 1071.5,202.5" stroke="#000" stroke-width="1" fill="none" shape-rendering="crispEdges"/>
<text transform="translate(1074.5,210) rotate(-90) scale(0.94,1)" text-anchor="end" class="r">P74</text>
<text transform="translate(1068,195) rotate(-90) scale(0.94,1)" class="r">35</text>
<polyline points="1071.5,432.5 1071.5,447" stroke="#000" stroke-width="1" fill="none" shape-rendering="crispEdges"/>
<text transform="translate(1073.7,424.3) rotate(-90) scale(0.94,1)" class="r">PD5</text>
<text transform="translate(1067.6,440.4) rotate(-90) scale(0.94,1)" text-anchor="end" class="r">14</text>
<polyline points="877.5,392.5 893.5,392.5" stroke="#000" stroke-width="1" fill="none" shape-rendering="crispEdges"/>
<text transform="translate(900.5,395.2) scale(0.94,1)" class="r">PA5</text>
<text transform="translate(885.7,388.8) scale(0.94,1)" text-anchor="end" class="r">63</text>
<polyline points="1123.5,392.5 1138.5,392.5" stroke="#000" stroke-width="1" fill="none" shape-rendering="crispEdges"/>
<text transform="translate(1115.4,395.2) scale(0.94,1)" text-anchor="end" class="r">PB6</text>
<text transform="translate(1129.3,388.2) scale(0.94,1)" class="r">18</text>
<polyline points="1083.5,189 1083.5,202.5" stroke="#000" stroke-width="1" fill="none" shape-rendering="crispEdges"/>
<text transform="translate(1086.5,210) rotate(-90) scale(0.94,1)" text-anchor="end" class="r">P75</text>
<text transform="translate(1080,195) rotate(-90) scale(0.94,1)" class="r">34</text>
<polyline points="1083.5,432.5 1083.5,447" stroke="#000" stroke-width="1" fill="none" shape-rendering="crispEdges"/>
<text transform="translate(1085.7,424.3) rotate(-90) scale(0.94,1)" class="r">PD4</text>
<text transform="translate(1079.6,440.4) rotate(-90) scale(0.94,1)" text-anchor="end" class="r">15</text>
<polyline points="877.5,404.5 893.5,404.5" stroke="#000" stroke-width="1" fill="none" shape-rendering="crispEdges"/>
<text transform="translate(900.5,407.2) scale(0.94,1)" class="r">PA4</text>
<text transform="translate(885.7,400.8) scale(0.94,1)" text-anchor="end" class="r">64</text>
<polyline points="1123.5,404.5 1138.5,404.5" stroke="#000" stroke-width="1" fill="none" shape-rendering="crispEdges"/>
<text transform="translate(1115.4,407.2) scale(0.94,1)" text-anchor="end" class="r">PB7</text>
<text transform="translate(1129.3,400.2) scale(0.94,1)" class="r">17</text>
<polyline points="1094.5,189 1094.5,202.5" stroke="#000" stroke-width="1" fill="none" shape-rendering="crispEdges"/>
<text transform="translate(1097.5,210) rotate(-90) scale(0.94,1)" text-anchor="end" class="r">P76</text>
<text transform="translate(1091,195) rotate(-90) scale(0.94,1)" class="r">33</text>
<polyline points="1094.5,432.5 1094.5,447.5" stroke="#000" stroke-width="1" fill="none" shape-rendering="crispEdges"/>
<text transform="translate(1096.7,424.3) rotate(-90) scale(0.94,1)" class="r">PD3</text>
<text transform="translate(1090.6,440.4) rotate(-90) scale(0.94,1)" text-anchor="end" class="r">16</text>
</g>
<text x="1133" y="208.5" textLength="29.6" lengthAdjust="spacingAndGlyphs">RX62T1</text>
<rect x="473.5" y="168.5" width="138" height="379" fill="none" stroke="#800000" stroke-width="1" shape-rendering="crispEdges"/>
<text x="473.6" y="164.1">U7</text>
<g id="u7-pins">
<polyline points="467,179.5 473.5,179.5" stroke="#000" stroke-width="1" fill="none" shape-rendering="crispEdges"/>
<text x="480.8" y="181.9" class="r">EMLE</text>
<text x="465.2" y="175.8" text-anchor="end" class="r">1</text>
<rect x="465.1" y="177.9" width="2.8" height="2.5" fill="#ff1493"/>
<polyline points="611.5,179.5 618,179.5" stroke="#000" stroke-width="1" fill="none" shape-rendering="crispEdges"/>
<text transform="translate(603.6,181.9) scale(0.94,1)" text-anchor="end" class="r">PA4</text>
<text transform="translate(617.6,175.8) scale(0.94,1)" class="r">64</text>
<polyline points="467,191.5 473.5,191.5" stroke="#000" stroke-width="1" fill="none" shape-rendering="crispEdges"/>
<text x="480.8" y="193.9" class="r">MDE</text>
<text x="465.2" y="187.8" text-anchor="end" class="r">2</text>
<rect x="465.1" y="189.9" width="2.8" height="2.5" fill="#ff1493"/>
<polyline points="611.5,191.5 618,191.5" stroke="#000" stroke-width="1" fill="none" shape-rendering="crispEdges"/>
<text transform="translate(603.6,193.9) scale(0.94,1)" text-anchor="end" class="r">PA5</text>
<text transform="translate(617.6,187.8) scale(0.94,1)" class="r">63</text>
<polyline points="467,202.5 473.5,202.5" stroke="#000" stroke-width="1" fill="none" shape-rendering="crispEdges"/>
<text x="480.8" y="204.9" class="r">VCL</text>
<text x="465.2" y="198.8" text-anchor="end" class="r">3</text>
<rect x="465.1" y="200.9" width="2.8" height="2.5" fill="#ff1493"/>
<polyline points="611.5,202.5 618,202.5" stroke="#000" stroke-width="1" fill="none" shape-rendering="crispEdges"/>
<text transform="translate(603.6,204.9) scale(0.94,1)" text-anchor="end" class="r">P10</text>
<text transform="translate(617.6,198.8) scale(0.94,1)" class="r">62</text>
<polyline points="467,214.5 473.5,214.5" stroke="#000" stroke-width="1" fill="none" shape-rendering="crispEdges"/>
<text x="480.8" y="216.9" class="r">MD1</text>
<text x="465.2" y="210.8" text-anchor="end" class="r">4</text>
<rect x="465.1" y="212.9" width="2.8" height="2.5" fill="#ff1493"/>
<polyline points="611.5,214.5 618,214.5" stroke="#000" stroke-width="1" fill="none" shape-rendering="crispEdges"/>
<text transform="translate(603.6,216.9) scale(0.94,1)" text-anchor="end" class="r">P11</text>
<text transform="translate(617.6,210.8) scale(0.94,1)" class="r">61</text>
<polyline points="467,225.5 473.5,225.5" stroke="#000" stroke-width="1" fill="none" shape-rendering="crispEdges"/>
<text x="480.8" y="227.9" class="r">MD0</text>
<text x="465.2" y="221.8" text-anchor="end" class="r">5</text>
<rect x="465.1" y="223.9" width="2.8" height="2.5" fill="#ff1493"/>
<polyline points="611.5,225.5 618,225.5" stroke="#000" stroke-width="1" fill="none" shape-rendering="crispEdges"/>
<text x="603.6" y="227.9" text-anchor="end" class="r">AVSS0</text>
<text transform="translate(617.6,221.8) scale(0.94,1)" class="r">60</text>
<rect x="617.1" y="223.9" width="2.8" height="2.5" fill="#ff1493"/>
<polyline points="467,237.5 473.5,237.5" stroke="#000" stroke-width="1" fill="none" shape-rendering="crispEdges"/>
<text x="480.8" y="239.9" class="r">RES#</text>
<text x="465.2" y="233.8" text-anchor="end" class="r">6</text>
<rect x="465.1" y="235.9" width="2.8" height="2.5" fill="#ff1493"/>
<polyline points="611.5,237.5 618,237.5" stroke="#000" stroke-width="1" fill="none" shape-rendering="crispEdges"/>
<text x="603.6" y="239.9" text-anchor="end" class="r">VREFL0</text>
<text transform="translate(617.6,233.8) scale(0.94,1)" class="r">59</text>
<rect x="617.1" y="235.9" width="2.8" height="2.5" fill="#ff1493"/>
<polyline points="467,248.5 473.5,248.5" stroke="#000" stroke-width="1" fill="none" shape-rendering="crispEdges"/>
<text x="480.8" y="250.9" class="r">XTAL</text>
<text x="465.2" y="244.8" text-anchor="end" class="r">7</text>
<rect x="465.1" y="246.9" width="2.8" height="2.5" fill="#ff1493"/>
<polyline points="611.5,248.5 618,248.5" stroke="#000" stroke-width="1" fill="none" shape-rendering="crispEdges"/>
<text x="603.6" y="250.9" text-anchor="end" class="r">VREFH0</text>
<text transform="translate(617.6,244.8) scale(0.94,1)" class="r">58</text>
<rect x="617.1" y="246.9" width="2.8" height="2.5" fill="#ff1493"/>
<polyline points="467,260.5 473.5,260.5" stroke="#000" stroke-width="1" fill="none" shape-rendering="crispEdges"/>
<text x="480.8" y="262.9" class="r">VSS</text>
<text x="465.2" y="256.8" text-anchor="end" class="r">8</text>
<rect x="465.1" y="258.9" width="2.8" height="2.5" fill="#ff1493"/>
<polyline points="611.5,260.5 618,260.5" stroke="#000" stroke-width="1" fill="none" shape-rendering="crispEdges"/>
<text x="603.6" y="262.9" text-anchor="end" class="r">AVCC0</text>
<text transform="translate(617.6,256.8) scale(0.94,1)" class="r">57</text>
<rect x="617.1" y="258.9" width="2.8" height="2.5" fill="#ff1493"/>
<polyline points="467,271.5 473.5,271.5" stroke="#000" stroke-width="1" fill="none" shape-rendering="crispEdges"/>
<text x="480.8" y="273.9" class="r">EXTAL</text>
<text x="465.2" y="267.8" text-anchor="end" class="r">9</text>
<rect x="465.1" y="269.9" width="2.8" height="2.5" fill="#ff1493"/>
<polyline points="611.5,271.5 618,271.5" stroke="#000" stroke-width="1" fill="none" shape-rendering="crispEdges"/>
<text transform="translate(603.6,273.9) scale(0.94,1)" text-anchor="end" class="r">P40</text>
<text transform="translate(617.6,267.8) scale(0.94,1)" class="r">56</text>
<polyline points="467,283.5 473.5,283.5" stroke="#000" stroke-width="1" fill="none" shape-rendering="crispEdges"/>
<text x="480.8" y="285.9" class="r">VCC</text>
<text transform="translate(465.2,279.8) scale(0.94,1)" text-anchor="end" class="r">10</text>
<rect x="465.1" y="281.9" width="2.8" height="2.5" fill="#ff1493"/>
<polyline points="611.5,283.5 618,283.5" stroke="#000" stroke-width="1" fill="none" shape-rendering="crispEdges"/>
<text transform="translate(603.6,285.9) scale(0.94,1)" text-anchor="end" class="r">P41</text>
<text transform="translate(617.6,279.8) scale(0.94,1)" class="r">55</text>
<polyline points="467,294.5 473.5,294.5" stroke="#000" stroke-width="1" fill="none" shape-rendering="crispEdges"/>
<text transform="translate(480.8,296.9) scale(0.94,1)" class="r">PE2</text>
<text transform="translate(465.2,290.8) scale(0.94,1)" text-anchor="end" class="r">11</text>
<rect x="465.1" y="292.9" width="2.8" height="2.5" fill="#ff1493"/>
<polyline points="611.5,294.5 618,294.5" stroke="#000" stroke-width="1" fill="none" shape-rendering="crispEdges"/>
<text transform="translate(603.6,296.9) scale(0.94,1)" text-anchor="end" class="r">P42</text>
<text transform="translate(617.6,290.8) scale(0.94,1)" class="r">54</text>
<polyline points="467,306.5 473.5,306.5" stroke="#000" stroke-width="1" fill="none" shape-rendering="crispEdges"/>
<text transform="translate(480.8,308.9) scale(0.94,1)" class="r">PD7</text>
<text transform="translate(465.2,302.8) scale(0.94,1)" text-anchor="end" class="r">12</text>
<polyline points="611.5,306.5 618,306.5" stroke="#000" stroke-width="1" fill="none" shape-rendering="crispEdges"/>
<text transform="translate(603.6,308.9) scale(0.94,1)" text-anchor="end" class="r">P43</text>
<text transform="translate(617.6,302.8) scale(0.94,1)" class="r">53</text>
<polyline points="467,317.5 473.5,317.5" stroke="#000" stroke-width="1" fill="none" shape-rendering="crispEdges"/>
<text transform="translate(480.8,319.9) scale(0.94,1)" class="r">PD6</text>
<text transform="translate(465.2,313.8) scale(0.94,1)" text-anchor="end" class="r">13</text>
<polyline points="611.5,317.5 618,317.5" stroke="#000" stroke-width="1" fill="none" shape-rendering="crispEdges"/>
<text transform="translate(603.6,319.9) scale(0.94,1)" text-anchor="end" class="r">P44</text>
<text transform="translate(617.6,313.8) scale(0.94,1)" class="r">52</text>
<polyline points="467,329.5 473.5,329.5" stroke="#000" stroke-width="1" fill="none" shape-rendering="crispEdges"/>
<text transform="translate(480.8,331.9) scale(0.94,1)" class="r">PD5</text>
<text transform="translate(465.2,325.8) scale(0.94,1)" text-anchor="end" class="r">14</text>
<rect x="465.1" y="327.9" width="2.8" height="2.5" fill="#ff1493"/>
<polyline points="611.5,329.5 618,329.5" stroke="#000" stroke-width="1" fill="none" shape-rendering="crispEdges"/>
<text transform="translate(603.6,331.9) scale(0.94,1)" text-anchor="end" class="r">P45</text>
<text transform="translate(617.6,325.8) scale(0.94,1)" class="r">51</text>
<polyline points="467,340.5 473.5,340.5" stroke="#000" stroke-width="1" fill="none" shape-rendering="crispEdges"/>
<text transform="translate(480.8,342.9) scale(0.94,1)" class="r">PD4</text>
<text transform="translate(465.2,336.8) scale(0.94,1)" text-anchor="end" class="r">15</text>
<polyline points="611.5,340.5 618,340.5" stroke="#000" stroke-width="1" fill="none" shape-rendering="crispEdges"/>
<text transform="translate(603.6,342.9) scale(0.94,1)" text-anchor="end" class="r">P46</text>
<text transform="translate(617.6,336.8) scale(0.94,1)" class="r">50</text>
<polyline points="467,352.5 473.5,352.5" stroke="#000" stroke-width="1" fill="none" shape-rendering="crispEdges"/>
<text transform="translate(480.8,354.9) scale(0.94,1)" class="r">PD3</text>
<text transform="translate(465.2,348.8) scale(0.94,1)" text-anchor="end" class="r">16</text>
<rect x="465.1" y="350.9" width="2.8" height="2.5" fill="#ff1493"/>
<polyline points="611.5,352.5 618,352.5" stroke="#000" stroke-width="1" fill="none" shape-rendering="crispEdges"/>
<text transform="translate(603.6,354.9) scale(0.94,1)" text-anchor="end" class="r">P47</text>
<text transform="translate(617.6,348.8) scale(0.94,1)" class="r">49</text>
<polyline points="467,363.5 473.5,363.5" stroke="#000" stroke-width="1" fill="none" shape-rendering="crispEdges"/>
<text transform="translate(480.8,365.9) scale(0.94,1)" class="r">PB7</text>
<text transform="translate(465.2,359.8) scale(0.94,1)" text-anchor="end" class="r">17</text>
<polyline points="611.5,363.5 618,363.5" stroke="#000" stroke-width="1" fill="none" shape-rendering="crispEdges"/>
<text transform="translate(603.6,365.9) scale(0.94,1)" text-anchor="end" class="r">P22</text>
<text transform="translate(617.6,359.8) scale(0.94,1)" class="r">48</text>
<polyline points="467,375.5 473.5,375.5" stroke="#000" stroke-width="1" fill="none" shape-rendering="crispEdges"/>
<text transform="translate(480.8,377.9) scale(0.94,1)" class="r">PB6</text>
<text transform="translate(465.2,371.8) scale(0.94,1)" text-anchor="end" class="r">18</text>
<polyline points="611.5,375.5 618,375.5" stroke="#000" stroke-width="1" fill="none" shape-rendering="crispEdges"/>
<text transform="translate(603.6,377.9) scale(0.94,1)" text-anchor="end" class="r">P23</text>
<text transform="translate(617.6,371.8) scale(0.94,1)" class="r">47</text>
<polyline points="467,386.5 473.5,386.5" stroke="#000" stroke-width="1" fill="none" shape-rendering="crispEdges"/>
<text transform="translate(480.8,388.9) scale(0.94,1)" class="r">PB5</text>
<text transform="translate(465.2,382.8) scale(0.94,1)" text-anchor="end" class="r">19</text>
<polyline points="611.5,386.5 618,386.5" stroke="#000" stroke-width="1" fill="none" shape-rendering="crispEdges"/>
<text transform="translate(603.6,388.9) scale(0.94,1)" text-anchor="end" class="r">P24</text>
<text transform="translate(617.6,382.8) scale(0.94,1)" class="r">46</text>
<polyline points="467,398.5 473.5,398.5" stroke="#000" stroke-width="1" fill="none" shape-rendering="crispEdges"/>
<text x="480.8" y="400.9" class="r">PLLVCC</text>
<text transform="translate(465.2,394.8) scale(0.94,1)" text-anchor="end" class="r">20</text>
<rect x="465.1" y="396.9" width="2.8" height="2.5" fill="#ff1493"/>
<polyline points="611.5,398.5 618,398.5" stroke="#000" stroke-width="1" fill="none" shape-rendering="crispEdges"/>
<text transform="translate(603.6,400.9) scale(0.94,1)" text-anchor="end" class="r">P30</text>
<text transform="translate(617.6,394.8) scale(0.94,1)" class="r">45</text>
<polyline points="467,409.5 473.5,409.5" stroke="#000" stroke-width="1" fill="none" shape-rendering="crispEdges"/>
<text transform="translate(480.8,411.9) scale(0.94,1)" class="r">PB4</text>
<text transform="translate(465.2,405.8) scale(0.94,1)" text-anchor="end" class="r">21</text>
<polyline points="611.5,409.5 618,409.5" stroke="#000" stroke-width="1" fill="none" shape-rendering="crispEdges"/>
<text x="603.6" y="411.9" text-anchor="end" class="r">VSS</text>
<text transform="translate(617.6,405.8) scale(0.94,1)" class="r">44</text>
<rect x="617.1" y="407.9" width="2.8" height="2.5" fill="#ff1493"/>
<polyline points="467,421.5 473.5,421.5" stroke="#000" stroke-width="1" fill="none" shape-rendering="crispEdges"/>
<text x="480.8" y="423.9" class="r">PLLVSS</text>
<text transform="translate(465.2,417.8) scale(0.94,1)" text-anchor="end" class="r">22</text>
<rect x="465.1" y="419.9" width="2.8" height="2.5" fill="#ff1493"/>
<polyline points="611.5,421.5 618,421.5" stroke="#000" stroke-width="1" fill="none" shape-rendering="crispEdges"/>
<text transform="translate(603.6,423.9) scale(0.94,1)" text-anchor="end" class="r">P31</text>
<text transform="translate(617.6,417.8) scale(0.94,1)" class="r">43</text>
<polyline points="467,432.5 473.5,432.5" stroke="#000" stroke-width="1" fill="none" shape-rendering="crispEdges"/>
<text transform="translate(480.8,434.9) scale(0.94,1)" class="r">PB3</text>
<text transform="translate(465.2,428.8) scale(0.94,1)" text-anchor="end" class="r">23</text>
<polyline points="611.5,432.5 618,432.5" stroke="#000" stroke-width="1" fill="none" shape-rendering="crispEdges"/>
<text x="603.6" y="434.9" text-anchor="end" class="r">VCC</text>
<text transform="translate(617.6,428.8) scale(0.94,1)" class="r">42</text>
<rect x="617.1" y="430.9" width="2.8" height="2.5" fill="#ff1493"/>
<polyline points="467,444.5 473.5,444.5" stroke="#000" stroke-width="1" fill="none" shape-rendering="crispEdges"/>
<text transform="translate(480.8,446.9) scale(0.94,1)" class="r">PB2</text>
<text transform="translate(465.2,440.8) scale(0.94,1)" text-anchor="end" class="r">24</text>
<polyline points="611.5,444.5 618,444.5" stroke="#000" stroke-width="1" fill="none" shape-rendering="crispEdges"/>
<text transform="translate(603.6,446.9) scale(0.94,1)" text-anchor="end" class="r">P32</text>
<text transform="translate(617.6,440.8) scale(0.94,1)" class="r">41</text>
<polyline points="467,455.5 473.5,455.5" stroke="#000" stroke-width="1" fill="none" shape-rendering="crispEdges"/>
<text transform="translate(480.8,457.9) scale(0.94,1)" class="r">PB1</text>
<text transform="translate(465.2,451.8) scale(0.94,1)" text-anchor="end" class="r">25</text>
<polyline points="611.5,455.5 618,455.5" stroke="#000" stroke-width="1" fill="none" shape-rendering="crispEdges"/>
<text transform="translate(603.6,457.9) scale(0.94,1)" text-anchor="end" class="r">P33</text>
<text transform="translate(617.6,451.8) scale(0.94,1)" class="r">40</text>
<polyline points="467,467.5 473.5,467.5" stroke="#000" stroke-width="1" fill="none" shape-rendering="crispEdges"/>
<text transform="translate(480.8,469.9) scale(0.94,1)" class="r">PB0</text>
<text transform="translate(465.2,463.8) scale(0.94,1)" text-anchor="end" class="r">26</text>
<polyline points="611.5,467.5 618,467.5" stroke="#000" stroke-width="1" fill="none" shape-rendering="crispEdges"/>
<text transform="translate(603.6,469.9) scale(0.94,1)" text-anchor="end" class="r">P70</text>
<text transform="translate(617.6,463.8) scale(0.94,1)" class="r">39</text>
<polyline points="467,478.5 473.5,478.5" stroke="#000" stroke-width="1" fill="none" shape-rendering="crispEdges"/>
<text transform="translate(480.8,480.9) scale(0.94,1)" class="r">PA3</text>
<text transform="translate(465.2,474.8) scale(0.94,1)" text-anchor="end" class="r">27</text>
<polyline points="611.5,478.5 618,478.5" stroke="#000" stroke-width="1" fill="none" shape-rendering="crispEdges"/>
<text transform="translate(603.6,480.9) scale(0.94,1)" text-anchor="end" class="r">P71</text>
<text transform="translate(617.6,474.8) scale(0.94,1)" class="r">38</text>
<polyline points="467,490.5 473.5,490.5" stroke="#000" stroke-width="1" fill="none" shape-rendering="crispEdges"/>
<text transform="translate(480.8,492.9) scale(0.94,1)" class="r">PA2</text>
<text transform="translate(465.2,486.8) scale(0.94,1)" text-anchor="end" class="r">28</text>
<polyline points="611.5,490.5 618,490.5" stroke="#000" stroke-width="1" fill="none" shape-rendering="crispEdges"/>
<text transform="translate(603.6,492.9) scale(0.94,1)" text-anchor="end" class="r">P72</text>
<text transform="translate(617.6,486.8) scale(0.94,1)" class="r">37</text>
<polyline points="467,501.5 473.5,501.5" stroke="#000" stroke-width="1" fill="none" shape-rendering="crispEdges"/>
<text transform="translate(480.8,503.9) scale(0.94,1)" class="r">P94</text>
<text transform="translate(465.2,497.8) scale(0.94,1)" text-anchor="end" class="r">29</text>
<polyline points="611.5,501.5 618,501.5" stroke="#000" stroke-width="1" fill="none" shape-rendering="crispEdges"/>
<text transform="translate(603.6,503.9) scale(0.94,1)" text-anchor="end" class="r">P73</text>
<text transform="translate(617.6,497.8) scale(0.94,1)" class="r">36</text>
<polyline points="467,513.5 473.5,513.5" stroke="#000" stroke-width="1" fill="none" shape-rendering="crispEdges"/>
<text transform="translate(480.8,515.9) scale(0.94,1)" class="r">P93</text>
<text transform="translate(465.2,509.8) scale(0.94,1)" text-anchor="end" class="r">30</text>
<polyline points="611.5,513.5 618,513.5" stroke="#000" stroke-width="1" fill="none" shape-rendering="crispEdges"/>
<text transform="translate(603.6,515.9) scale(0.94,1)" text-anchor="end" class="r">P74</text>
<text transform="translate(617.6,509.8) scale(0.94,1)" class="r">35</text>
<polyline points="467,524.5 473.5,524.5" stroke="#000" stroke-width="1" fill="none" shape-rendering="crispEdges"/>
<text transform="translate(480.8,526.9) scale(0.94,1)" class="r">P92</text>
<text transform="translate(465.2,520.8) scale(0.94,1)" text-anchor="end" class="r">31</text>
<polyline points="611.5,524.5 618,524.5" stroke="#000" stroke-width="1" fill="none" shape-rendering="crispEdges"/>
<text transform="translate(603.6,526.9) scale(0.94,1)" text-anchor="end" class="r">P75</text>
<text transform="translate(617.6,520.8) scale(0.94,1)" class="r">34</text>
<polyline points="467,536.5 473.5,536.5" stroke="#000" stroke-width="1" fill="none" shape-rendering="crispEdges"/>
<text transform="translate(480.8,538.9) scale(0.94,1)" class="r">P91</text>
<text transform="translate(465.2,532.8) scale(0.94,1)" text-anchor="end" class="r">32</text>
<polyline points="611.5,536.5 618,536.5" stroke="#000" stroke-width="1" fill="none" shape-rendering="crispEdges"/>
<text transform="translate(603.6,538.9) scale(0.94,1)" text-anchor="end" class="r">P76</text>
<text transform="translate(617.6,532.8) scale(0.94,1)" class="r">33</text>
</g>
<polyline points="877.5,179.5 885,179.5" stroke="#000" stroke-width="1" fill="none" shape-rendering="crispEdges"/>
<polyline points="901.5,179.5 908.5,179.5" stroke="#000" stroke-width="1" fill="none" shape-rendering="crispEdges"/>
<polyline points="885,179.5 886.38,176.8 889.12,182.2 891.88,176.8 894.62,182.2 897.38,176.8 900.12,182.2 901.5,179.5" stroke="#800000" stroke-width="1.1" fill="none"/>
<polyline points="877.5,179.5 877.5,195.5" stroke="#0000ff" stroke-width="1" fill="none" shape-rendering="crispEdges"/>
<polyline points="870,195.5 885,195.5" stroke="#0000ff" stroke-width="1" fill="none" shape-rendering="crispEdges"/>
<polyline points="870,195.5 866.4,203" stroke="#0000ff" stroke-width="1" fill="none"/>
<polyline points="877.5,195.5 873.9,203" stroke="#0000ff" stroke-width="1" fill="none"/>
<polyline points="885,195.5 881.4,203" stroke="#0000ff" stroke-width="1" fill="none"/>
<text x="885" y="172.5">R0</text>
<text x="885" y="190.6">10k</text>
<text x="868" y="214.3">GND</text>
<polygon points="919.7,179 923,175.7 926.3,179 923,182.3" fill="#b00000"/>
<polyline points="950.5,125.5 950.5,136.5" stroke="#0000ff" stroke-width="1" fill="none" shape-rendering="crispEdges"/>
<polyline points="943,136.5 958,136.5" stroke="#0000ff" stroke-width="1" fill="none" shape-rendering="crispEdges"/>
<polyline points="943,136.5 939.4,144" stroke="#0000ff" stroke-width="1" fill="none"/>
<polyline points="950.5,136.5 946.9,144" stroke="#0000ff" stroke-width="1" fill="none"/>
<polyline points="958,136.5 954.4,144" stroke="#0000ff" stroke-width="1" fill="none"/>
<text x="941" y="155.6">GND</text>
<polygon points="991.5,70.5 984,82.5 999,82.5" fill="#fff" stroke="#0000ff" stroke-width="1.1"/>
<polyline points="991.5,82.5 991.5,97" stroke="#0000ff" stroke-width="1" fill="none" shape-rendering="crispEdges"/>
<text x="982" y="64.6" textLength="20.3" lengthAdjust="spacingAndGlyphs">3.3V</text>
<polyline points="1198.5,348.5 1198.5,359.5" stroke="#0000ff" stroke-width="1" fill="none" shape-rendering="crispEdges"/>
<polyline points="1191,359.5 1206,359.5" stroke="#0000ff" stroke-width="1" fill="none" shape-rendering="crispEdges"/>
<polyline points="1191,359.5 1187.4,367" stroke="#0000ff" stroke-width="1" fill="none"/>
<polyline points="1198.5,359.5 1194.9,367" stroke="#0000ff" stroke-width="1" fill="none"/>
<polyline points="1206,359.5 1202.4,367" stroke="#0000ff" stroke-width="1" fill="none"/>
<text x="1188.8" y="378.5">GND</text>
<polygon points="1239.5,342.5 1232,354.5 1247,354.5" fill="#fff" stroke="#0000ff" stroke-width="1.1"/>
<polyline points="1239.5,354.5 1239.5,369.5" stroke="#0000ff" stroke-width="1" fill="none" shape-rendering="crispEdges"/>
<text x="1230" y="336.6" textLength="20.3" lengthAdjust="spacingAndGlyphs">3.3V</text>
<polygon points="835.5,297.5 828,310 843,310" fill="#fff" stroke="#0000ff" stroke-width="1.1"/>
<polyline points="835.5,310 835.5,324.5" stroke="#0000ff" stroke-width="1" fill="none" shape-rendering="crispEdges"/>
<text x="825.8" y="292.5" textLength="20.3" lengthAdjust="spacingAndGlyphs">3.3V</text>
<polyline points="835.5,324.5 835.5,337.5" stroke="#000" stroke-width="1" fill="none" shape-rendering="crispEdges"/>
<polyline points="835.5,343.5 835.5,357.5" stroke="#000" stroke-width="1" fill="none" shape-rendering="crispEdges"/>
<polyline points="829.9,337.5 841.9,337.5" stroke="#800000" stroke-width="1" fill="none" shape-rendering="crispEdges"/>
<polyline points="829.9,343.5 841.9,343.5" stroke="#800000" stroke-width="1" fill="none" shape-rendering="crispEdges"/>
<text x="845" y="342.5">U5</text>
<text x="843.8" y="354.5">0.1u</text>
<polyline points="835.5,357.5 835.5,367.5" stroke="#0000ff" stroke-width="1" fill="none" shape-rendering="crispEdges"/>
<polyline points="828,367.5 843,367.5" stroke="#0000ff" stroke-width="1" fill="none" shape-rendering="crispEdges"/>
<polyline points="828,367.5 824.4,375" stroke="#0000ff" stroke-width="1" fill="none"/>
<polyline points="835.5,367.5 831.9,375" stroke="#0000ff" stroke-width="1" fill="none"/>
<polyline points="843,367.5 839.4,375" stroke="#0000ff" stroke-width="1" fill="none"/>
<text x="825.8" y="386.3">GND</text>
<polygon points="832.7,324 836,320.7 839.3,324 836,327.3" fill="#b00000"/>
<polygon points="867.7,323.5 871,320.2 874.3,323.5 871,326.8" fill="#b00000"/>
<polygon points="832.7,356 836,352.7 839.3,356 836,359.3" fill="#b00000"/>
<polygon points="867.7,356.8 871,353.5 874.3,356.8 871,360.1" fill="#b00000"/>
<polyline points="835.5,463 835.5,470" stroke="#000" stroke-width="1" fill="none" shape-rendering="crispEdges"/>
<polyline points="835.5,487 835.5,494" stroke="#000" stroke-width="1" fill="none" shape-rendering="crispEdges"/>
<polyline points="835.5,470 838.2,471.42 832.8,474.25 838.2,477.08 832.8,479.92 838.2,482.75 832.8,485.58 835.5,487" stroke="#800000" stroke-width="1.1" fill="none"/>
<text x="845" y="466.6">R5</text>
<text x="845" y="478.8">10k</text>
<polyline points="878.5,475 878.5,481.5" stroke="#000" stroke-width="1" fill="none" shape-rendering="crispEdges"/>
<polyline points="878.5,487.5 878.5,494" stroke="#000" stroke-width="1" fill="none" shape-rendering="crispEdges"/>
<polyline points="872.9,481.5 884.9,481.5" stroke="#800000" stroke-width="1" fill="none" shape-rendering="crispEdges"/>
<polyline points="872.9,487.5 884.9,487.5" stroke="#800000" stroke-width="1" fill="none" shape-rendering="crispEdges"/>
<text x="888.1" y="486.5">U4</text>
<text x="887.5" y="498.8">0.1u</text>
<polygon points="861.7,500 865,496.7 868.3,500 865,503.3" fill="#b00000"/>
<polyline points="864.5,500.5 864.5,517.5" stroke="#0000ff" stroke-width="1" fill="none" shape-rendering="crispEdges"/>
<polyline points="857,517.5 872,517.5" stroke="#0000ff" stroke-width="1" fill="none" shape-rendering="crispEdges"/>
<polyline points="857,517.5 853.4,525" stroke="#0000ff" stroke-width="1" fill="none"/>
<polyline points="864.5,517.5 860.9,525" stroke="#0000ff" stroke-width="1" fill="none"/>
<polyline points="872,517.5 868.4,525" stroke="#0000ff" stroke-width="1" fill="none"/>
<text x="854.5" y="536.3">GND</text>
<polygon points="919.7,500 923,496.7 926.3,500 923,503.3" fill="#b00000"/>
<polyline points="922.5,512 922.5,519.5" stroke="#000" stroke-width="1" fill="none" shape-rendering="crispEdges"/>
<polyline points="922.5,536.5 922.5,543" stroke="#000" stroke-width="1" fill="none" shape-rendering="crispEdges"/>
<polyline points="922.5,519.5 925.2,520.92 919.8,523.75 925.2,526.58 919.8,529.42 925.2,532.25 919.8,535.08 922.5,536.5" stroke="#800000" stroke-width="1.1" fill="none"/>
<text x="930" y="513.3">R4</text>
<text x="930" y="528.5">10k</text>
<polygon points="962.5,486.5 955,499.5 970,499.5" fill="#fff" stroke="#0000ff" stroke-width="1.1"/>
<polyline points="962.5,499.5 962.5,516.5" stroke="#0000ff" stroke-width="1" fill="none" shape-rendering="crispEdges"/>
<text x="953.1" y="480.6" textLength="20.3" lengthAdjust="spacingAndGlyphs">3.3V</text>
<polygon points="959.7,516 963,512.7 966.3,516 963,519.3" fill="#b00000"/>
<polygon points="965.7,516 969,512.7 972.3,516 969,519.3" fill="#b00000"/>
<polyline points="979.5,469.5 979.5,476" stroke="#000" stroke-width="1" fill="none" shape-rendering="crispEdges"/>
<polyline points="979.5,493 979.5,499.5" stroke="#000" stroke-width="1" fill="none" shape-rendering="crispEdges"/>
<polyline points="979.5,476 982.2,477.42 976.8,480.25 982.2,483.08 976.8,485.92 982.2,488.75 976.8,491.58 979.5,493" stroke="#800000" stroke-width="1.1" fill="none"/>
<text x="989" y="472.5">R3</text>
<text x="988" y="485">Value</text>
<polyline points="1002.5,447 1002.5,466.5" stroke="#0000ff" stroke-width="1" fill="none" shape-rendering="crispEdges"/>
<polyline points="995,466.5 1010,466.5" stroke="#0000ff" stroke-width="1" fill="none" shape-rendering="crispEdges"/>
<polyline points="995,466.5 991.4,474" stroke="#0000ff" stroke-width="1" fill="none"/>
<polyline points="1002.5,466.5 998.9,474" stroke="#0000ff" stroke-width="1" fill="none"/>
<polyline points="1010,466.5 1006.4,474" stroke="#0000ff" stroke-width="1" fill="none"/>
<text x="993" y="485">GND</text>
<polygon points="1014.5,500.5 1007,513.5 1022,513.5" fill="#fff" stroke="#0000ff" stroke-width="1.1"/>
<polyline points="1014.5,513.5 1014.5,527.5" stroke="#0000ff" stroke-width="1" fill="none" shape-rendering="crispEdges"/>
<text x="1005" y="495" textLength="20.3" lengthAdjust="spacingAndGlyphs">3.3V</text>
<polygon points="1022.7,527 1026,523.7 1029.3,527 1026,530.3" fill="#b00000"/>
<polyline points="1037.5,480.5 1037.5,487.5" stroke="#000" stroke-width="1" fill="none" shape-rendering="crispEdges"/>
<polyline points="1037.5,504.5 1037.5,510.5" stroke="#000" stroke-width="1" fill="none" shape-rendering="crispEdges"/>
<polyline points="1037.5,487.5 1040.2,488.92 1034.8,491.75 1040.2,494.58 1034.8,497.42 1040.2,500.25 1034.8,503.08 1037.5,504.5" stroke="#800000" stroke-width="1.1" fill="none"/>
<text x="1045" y="483">R1</text>
<text x="1045" y="497">10k</text>
<polygon points="1068.7,480 1072,476.7 1075.3,480 1072,483.3" fill="#b00000"/>
<polyline points="1071.5,485 1071.5,487.5" stroke="#000" stroke-width="1" fill="none" shape-rendering="crispEdges"/>
<polyline points="1071.5,504.5 1071.5,510.5" stroke="#000" stroke-width="1" fill="none" shape-rendering="crispEdges"/>
<polyline points="1071.5,487.5 1074.2,488.92 1068.8,491.75 1074.2,494.58 1068.8,497.42 1074.2,500.25 1068.8,503.08 1071.5,504.5" stroke="#800000" stroke-width="1.1" fill="none"/>
<text x="1080" y="483">R2</text>
<text x="1080" y="497">10k</text>
<polyline points="1071.5,546 1071.5,558.5" stroke="#0000ff" stroke-width="1" fill="none" shape-rendering="crispEdges"/>
<polyline points="1064,558.5 1079,558.5" stroke="#0000ff" stroke-width="1" fill="none" shape-rendering="crispEdges"/>
<polyline points="1064,558.5 1060.4,566" stroke="#0000ff" stroke-width="1" fill="none"/>
<polyline points="1071.5,558.5 1067.9,566" stroke="#0000ff" stroke-width="1" fill="none"/>
<polyline points="1079,558.5 1075.4,566" stroke="#0000ff" stroke-width="1" fill="none"/>
<text x="1062" y="577.5">GND</text>
<polyline points="959.5,559.5 973.5,559.5" stroke="#000" stroke-width="1" fill="none" shape-rendering="crispEdges"/>
<polyline points="986.5,559.5 1002.5,559.5" stroke="#000" stroke-width="1" fill="none" shape-rendering="crispEdges"/>
<polyline points="973.5,553 973.5,566" stroke="#800000" stroke-width="1" fill="none" shape-rendering="crispEdges"/>
<polyline points="986.5,553 986.5,566" stroke="#800000" stroke-width="1" fill="none" shape-rendering="crispEdges"/>
<rect x="976.5" y="555.5" width="6" height="8" fill="none" stroke="#800000" stroke-width="1" shape-rendering="crispEdges"/>
<text x="973.8" y="549.4">U1</text>
<text x="962" y="555.6" class="r">1</text>
<text x="992.3" y="555.6" class="r">3</text>
<polygon points="956.7,559 960,555.7 963.3,559 960,562.3" fill="#b00000"/>
<polygon points="999.7,559 1003,555.7 1006.3,559 1003,562.3" fill="#b00000"/>
<polyline points="962.5,566.5 962.5,573.5" stroke="#000" stroke-width="1" fill="none" shape-rendering="crispEdges"/>
<polyline points="962.5,579.5 962.5,586.5" stroke="#000" stroke-width="1" fill="none" shape-rendering="crispEdges"/>
<polyline points="956.9,573.5 968.9,573.5" stroke="#800000" stroke-width="1" fill="none" shape-rendering="crispEdges"/>
<polyline points="956.9,579.5 968.9,579.5" stroke="#800000" stroke-width="1" fill="none" shape-rendering="crispEdges"/>
<polyline points="996.5,566.5 996.5,573.5" stroke="#000" stroke-width="1" fill="none" shape-rendering="crispEdges"/>
<polyline points="996.5,579.5 996.5,586.5" stroke="#000" stroke-width="1" fill="none" shape-rendering="crispEdges"/>
<polyline points="990.9,573.5 1002.9,573.5" stroke="#800000" stroke-width="1" fill="none" shape-rendering="crispEdges"/>
<polyline points="990.9,579.5 1002.9,579.5" stroke="#800000" stroke-width="1" fill="none" shape-rendering="crispEdges"/>
<text x="976.9" y="575.6">U2</text>
<text x="1011.9" y="575.6">U3</text>
<text x="948" y="590.6">8p</text>
<text x="1004.8" y="590.6">8p</text>
<polygon points="977.2,586 980.5,582.7 983.8,586 980.5,589.3" fill="#b00000"/>
<polyline points="979.5,586.5 979.5,603.5" stroke="#0000ff" stroke-width="1" fill="none" shape-rendering="crispEdges"/>
<polyline points="972,603.5 987,603.5" stroke="#0000ff" stroke-width="1" fill="none" shape-rendering="crispEdges"/>
<polyline points="972,603.5 968.4,611" stroke="#0000ff" stroke-width="1" fill="none"/>
<polyline points="979.5,603.5 975.9,611" stroke="#0000ff" stroke-width="1" fill="none"/>
<polyline points="987,603.5 983.4,611" stroke="#0000ff" stroke-width="1" fill="none"/>
<text x="970" y="622">GND</text>
<rect x="1028.5" y="645.5" width="17" height="16" fill="none" stroke="#800000" stroke-width="1" shape-rendering="crispEdges"/>
<polyline points="1025,646.5 1028.5,646.5" stroke="#000" stroke-width="1" fill="none" shape-rendering="crispEdges"/>
<polyline points="1045.5,646.5 1051,646.5" stroke="#000" stroke-width="1" fill="none" shape-rendering="crispEdges"/>
<polyline points="1025,658.5 1030,658.5" stroke="#000" stroke-width="1" fill="none" shape-rendering="crispEdges"/>
<polyline points="1043,658.5 1049,658.5" stroke="#000" stroke-width="1" fill="none" shape-rendering="crispEdges"/>
<text x="1028.8" y="641.3">U6</text>
<text x="1019.5" y="642.5" class="r">1</text>
<text x="1050" y="642.5" class="r">2</text>
<text x="1019" y="655" class="r">3</text>
<text x="1050.5" y="655" class="r">4</text>
<polyline points="1036,685.5 1051,685.5" stroke="#0000ff" stroke-width="1" fill="none" shape-rendering="crispEdges"/>
<polyline points="1036,685.5 1032.4,693" stroke="#0000ff" stroke-width="1" fill="none"/>
<polyline points="1043.5,685.5 1039.9,693" stroke="#0000ff" stroke-width="1" fill="none"/>
<polyline points="1051,685.5 1047.4,693" stroke="#0000ff" stroke-width="1" fill="none"/>
<text x="1033" y="704.5">GND</text>
<rect x="152.5" y="48.5" width="46" height="29" fill="none" stroke="#800000" stroke-width="1" shape-rendering="crispEdges"/>
<text x="153" y="44.5">U12</text>
<text x="155" y="57.2" class="r">IN</text>
<text x="178.5" y="57.2" class="r">OUT</text>
<text x="166.8" y="72.5" class="r">GND</text>
<polyline points="145.5,54.5 152.5,54.5" stroke="#000" stroke-width="1" fill="none" shape-rendering="crispEdges"/>
<polyline points="198.5,54.5 206.5,54.5" stroke="#000" stroke-width="1" fill="none" shape-rendering="crispEdges"/>
<polyline points="175.5,77.5 175.5,86.5" stroke="#000" stroke-width="1" fill="none" shape-rendering="crispEdges"/>
<text x="140" y="50.5" class="r">3</text>
<text x="205.8" y="50.5" class="r">2</text>
<text transform="translate(172,89.5) rotate(-90)" class="r">1</text>
<rect x="152.5" y="192.5" width="46" height="29" fill="none" stroke="#800000" stroke-width="1" shape-rendering="crispEdges"/>
<text x="153.8" y="183.8">U18</text>
<text x="155" y="201.2" class="r">IN</text>
<text x="178.5" y="201.2" class="r">OUT</text>
<text x="166.8" y="215.5" class="r">GND</text>
<polyline points="145.5,198.5 152.5,198.5" stroke="#000" stroke-width="1" fill="none" shape-rendering="crispEdges"/>
<polyline points="198.5,198.5 206.5,198.5" stroke="#000" stroke-width="1" fill="none" shape-rendering="crispEdges"/>
<polyline points="175.5,221.5 175.5,230.5" stroke="#000" stroke-width="1" fill="none" shape-rendering="crispEdges"/>
<text x="140" y="195" class="r">2</text>
<text x="205.8" y="195" class="r">3</text>
<text transform="translate(172,233.5) rotate(-90)" class="r">1</text>
<polygon points="203.7,64 207,60.7 210.3,64 207,67.3" fill="#b00000"/>
<polygon points="241.7,64 245,60.7 248.3,64 245,67.3" fill="#b00000"/>
<polyline points="206.5,64.5 206.5,71.5" stroke="#000" stroke-width="1" fill="none" shape-rendering="crispEdges"/>
<polyline points="206.5,77.5 206.5,84.5" stroke="#000" stroke-width="1" fill="none" shape-rendering="crispEdges"/>
<polyline points="199.9,71.5 211.9,71.5" stroke="#800000" stroke-width="1" fill="none" shape-rendering="crispEdges"/>
<polyline points="199.9,77.5 211.9,77.5" stroke="#800000" stroke-width="1" fill="none" shape-rendering="crispEdges"/>
<polyline points="244.5,64.5 244.5,71.5" stroke="#000" stroke-width="1" fill="none" shape-rendering="crispEdges"/>
<polyline points="244.5,77.5 244.5,84.5" stroke="#000" stroke-width="1" fill="none" shape-rendering="crispEdges"/>
<polyline points="238.2,71.5 250.2,71.5" stroke="#800000" stroke-width="1" fill="none" shape-rendering="crispEdges"/>
<polyline points="238.2,77.5 250.2,77.5" stroke="#800000" stroke-width="1" fill="none" shape-rendering="crispEdges"/>
<polyline points="238,68 241.5,68" stroke="#800000" stroke-width="1" fill="none" shape-rendering="crispEdges"/>
<polyline points="240,66 240,69.5" stroke="#800000" stroke-width="1" fill="none" shape-rendering="crispEdges"/>
<text x="214.9" y="76.7">U16</text>
<text x="214" y="88.7">0.1u</text>
<text x="253.8" y="75">U14</text>
<text x="253" y="85.5">33u</text>
<polygon points="224.7,84 228,80.7 231.3,84 228,87.3" fill="#b00000"/>
<polyline points="227.5,84.5 227.5,110" stroke="#0000ff" stroke-width="1" fill="none" shape-rendering="crispEdges"/>
<polyline points="220,110 235,110" stroke="#0000ff" stroke-width="1" fill="none" shape-rendering="crispEdges"/>
<polyline points="220,110 216.4,117.5" stroke="#0000ff" stroke-width="1" fill="none"/>
<polyline points="227.5,110 223.9,117.5" stroke="#0000ff" stroke-width="1" fill="none"/>
<polyline points="235,110 231.4,117.5" stroke="#0000ff" stroke-width="1" fill="none"/>
<text x="218" y="128.5">GND</text>
<polygon points="285.5,35.5 278,48.5 293,48.5" fill="#fff" stroke="#0000ff" stroke-width="1.1"/>
<polyline points="285.5,48.5 285.5,64.5" stroke="#0000ff" stroke-width="1" fill="none" shape-rendering="crispEdges"/>
<text x="275.6" y="29.8" textLength="20.3" lengthAdjust="spacingAndGlyphs">3.3V</text>
<polyline points="175.5,110 175.5,119.5" stroke="#0000ff" stroke-width="1" fill="none" shape-rendering="crispEdges"/>
<polyline points="168,119.5 183,119.5" stroke="#0000ff" stroke-width="1" fill="none" shape-rendering="crispEdges"/>
<polyline points="168,119.5 164.4,127" stroke="#0000ff" stroke-width="1" fill="none"/>
<polyline points="175.5,119.5 171.9,127" stroke="#0000ff" stroke-width="1" fill="none"/>
<polyline points="183,119.5 179.4,127" stroke="#0000ff" stroke-width="1" fill="none"/>
<text x="166.8" y="138.8">GND</text>
<rect x="49.5" y="104.5" width="59" height="15" fill="none" stroke="#800000" stroke-width="1" shape-rendering="crispEdges"/>
<text x="53" y="99.8">U9</text>
<text x="52" y="113.8" textLength="41.5" lengthAdjust="spacingAndGlyphs" class="r">VCC(&lt;15)</text>
<polyline points="101.5,111.5 115,111.5" stroke="#000" stroke-width="1" fill="none" shape-rendering="crispEdges"/>
<text x="108.6" y="108" class="r">1</text>
<polygon points="121.7,111 125,107.7 128.3,111 125,114.3" fill="#b00000"/>
<polygon points="142.7,111 146,107.7 149.3,111 146,114.3" fill="#b00000"/>
<polyline points="124.5,120 124.5,126.5" stroke="#000" stroke-width="1" fill="none" shape-rendering="crispEdges"/>
<polyline points="124.5,132.5 124.5,138" stroke="#000" stroke-width="1" fill="none" shape-rendering="crispEdges"/>
<polyline points="117.9,126.5 129.9,126.5" stroke="#800000" stroke-width="1" fill="none" shape-rendering="crispEdges"/>
<polyline points="117.9,132.5 129.9,132.5" stroke="#800000" stroke-width="1" fill="none" shape-rendering="crispEdges"/>
<polyline points="118,123 121.5,123" stroke="#800000" stroke-width="1" fill="none" shape-rendering="crispEdges"/>
<polyline points="120,121 120,124.5" stroke="#800000" stroke-width="1" fill="none" shape-rendering="crispEdges"/>
<text x="132.5" y="128">U13</text>
<text x="131.8" y="140">Value</text>
<polyline points="117,150 132,150" stroke="#0000ff" stroke-width="1" fill="none" shape-rendering="crispEdges"/>
<polyline points="117,150 113.4,157.5" stroke="#0000ff" stroke-width="1" fill="none"/>
<polyline points="124.5,150 120.9,157.5" stroke="#0000ff" stroke-width="1" fill="none"/>
<polyline points="132,150 128.4,157.5" stroke="#0000ff" stroke-width="1" fill="none"/>
<text x="113.8" y="169.5">GND</text>
<rect x="285.5" y="164.5" width="58" height="14" fill="none" stroke="#800000" stroke-width="1" shape-rendering="crispEdges"/>
<text x="288" y="158.8">U11</text>
<text x="318" y="173.5" textLength="12" lengthAdjust="spacingAndGlyphs" class="r">5V</text>
<polyline points="336.5,171.5 350.5,171.5" stroke="#000" stroke-width="1" fill="none" shape-rendering="crispEdges"/>
<text x="343.5" y="167" class="r">1</text>
<polygon points="231.7,203 235,199.7 238.3,203 235,206.3" fill="#b00000"/>
<polygon points="274.7,198 278,194.7 281.3,198 278,201.3" fill="#b00000"/>
<polyline points="234.5,206 234.5,212.5" stroke="#000" stroke-width="1" fill="none" shape-rendering="crispEdges"/>
<polyline points="234.5,218.5 234.5,225.5" stroke="#000" stroke-width="1" fill="none" shape-rendering="crispEdges"/>
<polyline points="228.1,212.5 240.1,212.5" stroke="#800000" stroke-width="1" fill="none" shape-rendering="crispEdges"/>
<polyline points="228.1,218.5 240.1,218.5" stroke="#800000" stroke-width="1" fill="none" shape-rendering="crispEdges"/>
<polyline points="277.5,204 277.5,212.5" stroke="#000" stroke-width="1" fill="none" shape-rendering="crispEdges"/>
<polyline points="277.5,218.5 277.5,225.5" stroke="#000" stroke-width="1" fill="none" shape-rendering="crispEdges"/>
<polyline points="271.5,212.5 283.5,212.5" stroke="#800000" stroke-width="1" fill="none" shape-rendering="crispEdges"/>
<polyline points="271.5,218.5 283.5,218.5" stroke="#800000" stroke-width="1" fill="none" shape-rendering="crispEdges"/>
<polyline points="271,209 274.5,209" stroke="#800000" stroke-width="1" fill="none" shape-rendering="crispEdges"/>
<polyline points="273,207 273,210.5" stroke="#800000" stroke-width="1" fill="none" shape-rendering="crispEdges"/>
<text x="242.5" y="218">U17</text>
<text x="242.5" y="229.5">Value</text>
<text x="286.8" y="214.5">U15</text>
<text x="285.8" y="226.8">Value</text>
<polygon points="260.7,225 264,221.7 267.3,225 264,228.3" fill="#b00000"/>
<polygon points="179.7,254 183,250.7 186.3,254 183,257.3" fill="#b00000"/>
<polyline points="182.5,254.5 182.5,265.5" stroke="#0000ff" stroke-width="1" fill="none" shape-rendering="crispEdges"/>
<polyline points="175,265.5 190,265.5" stroke="#0000ff" stroke-width="1" fill="none" shape-rendering="crispEdges"/>
<polyline points="175,265.5 171.4,273" stroke="#0000ff" stroke-width="1" fill="none"/>
<polyline points="182.5,265.5 178.9,273" stroke="#0000ff" stroke-width="1" fill="none"/>
<polyline points="190,265.5 186.4,273" stroke="#0000ff" stroke-width="1" fill="none"/>
<text x="173" y="284.5">GND</text>
<rect x="72.5" y="287.5" width="59" height="14" fill="none" stroke="#800000" stroke-width="1" shape-rendering="crispEdges"/>
<text x="75.8" y="282.5">U8</text>
<text x="95.8" y="296.5" class="r">GND</text>
<polyline points="124.5,294.5 137.5,294.5" stroke="#000" stroke-width="1" fill="none" shape-rendering="crispEdges"/>
<text x="131.8" y="290.8" class="r">1</text>
<polyline points="181,305.5 196,305.5" stroke="#0000ff" stroke-width="1" fill="none" shape-rendering="crispEdges"/>
<polyline points="181,305.5 177.4,313" stroke="#0000ff" stroke-width="1" fill="none"/>
<polyline points="188.5,305.5 184.9,313" stroke="#0000ff" stroke-width="1" fill="none"/>
<polyline points="196,305.5 192.4,313" stroke="#0000ff" stroke-width="1" fill="none"/>
<text x="179.3" y="324.3">GND</text>
<rect x="72.5" y="334.5" width="59" height="15" fill="none" stroke="#800000" stroke-width="1" shape-rendering="crispEdges"/>
<text x="75.8" y="329.5">U10</text>
<text x="97" y="344.5" textLength="20.3" lengthAdjust="spacingAndGlyphs" class="r">3.3V</text>
<polyline points="124.5,341.5 137.5,341.5" stroke="#000" stroke-width="1" fill="none" shape-rendering="crispEdges"/>
<text x="131.8" y="338.3" class="r">1</text>
<polygon points="158.5,311.5 151,324.5 166,324.5" fill="#fff" stroke="#0000ff" stroke-width="1.1"/>
<text x="148.8" y="305.8" textLength="20.3" lengthAdjust="spacingAndGlyphs">3.3V</text>
</svg></body></html>
